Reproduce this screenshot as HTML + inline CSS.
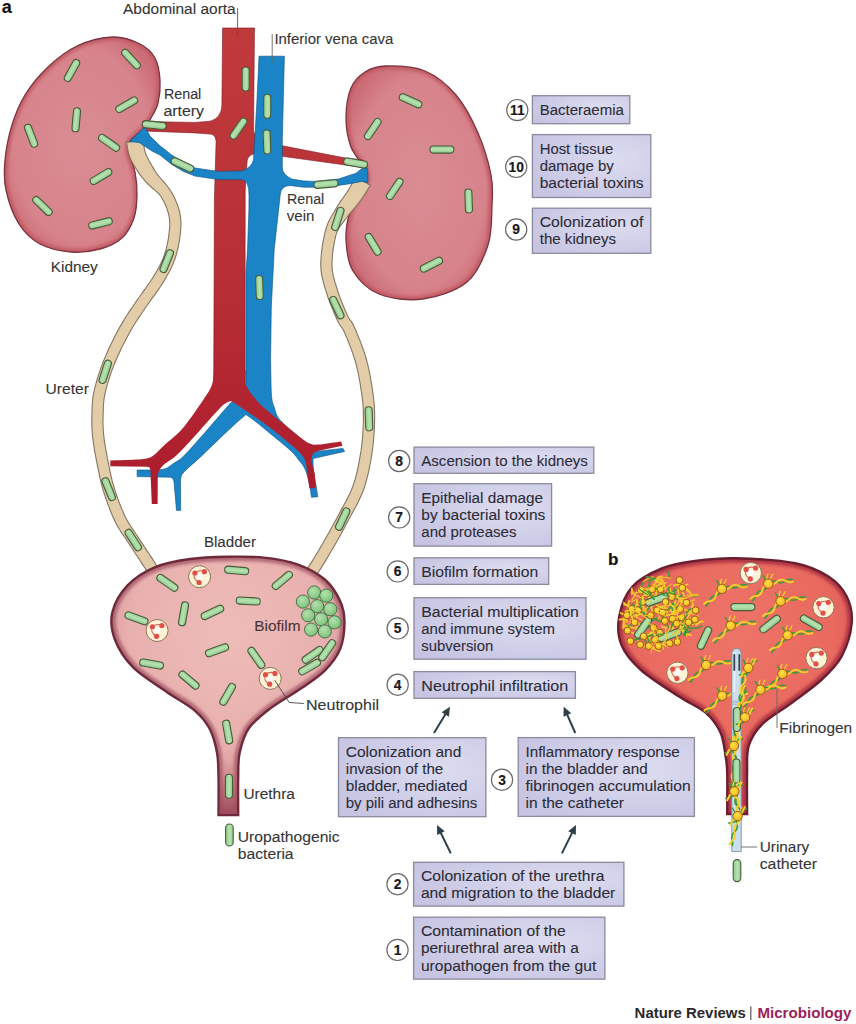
<!DOCTYPE html>
<html><head><meta charset="utf-8"><title>UTI pathogenesis</title>
<style>html,body{margin:0;padding:0;background:#ffffff;}body{width:856px;height:1024px;overflow:hidden;font-family:"Liberation Sans",sans-serif;}svg{display:block;}</style>
</head><body>
<svg width="856" height="1024" viewBox="0 0 856 1024" font-family="Liberation Sans, sans-serif"><defs>
<linearGradient id="bg" x1="0" y1="0" x2="0" y2="1">
 <stop offset="0" stop-color="#8fcf8f"/><stop offset="0.45" stop-color="#b8e2b2"/><stop offset="1" stop-color="#8cc98c"/>
</linearGradient>
<radialGradient id="kid" cx="0.5" cy="0.5" r="0.56">
 <stop offset="0" stop-color="#da8c93"/><stop offset="0.8" stop-color="#d7838b"/><stop offset="1" stop-color="#cc6e78"/>
</radialGradient>
<radialGradient id="bla" cx="0.5" cy="0.3" r="0.7">
 <stop offset="0" stop-color="#eebcb8"/><stop offset="0.6" stop-color="#e8b0ae"/><stop offset="1" stop-color="#cc868c"/>
</radialGradient>
<radialGradient id="blb" cx="0.5" cy="0.3" r="0.7">
 <stop offset="0" stop-color="#ee7468"/><stop offset="0.6" stop-color="#e9695f"/><stop offset="1" stop-color="#d2545a"/>
</radialGradient>
<radialGradient id="box" cx="0.7" cy="0.4" r="0.8">
 <stop offset="0" stop-color="#dcdcf0"/><stop offset="1" stop-color="#c6c4e2"/>
</radialGradient>
<linearGradient id="aor" x1="0" y1="0" x2="1" y2="0">
 <stop offset="0" stop-color="#c03a3c"/><stop offset="1" stop-color="#b0262e"/>
</linearGradient>
<linearGradient id="ure" x1="0" y1="0" x2="0" y2="1">
 <stop offset="0" stop-color="#b86874" stop-opacity="0"/><stop offset="1" stop-color="#9a4658" stop-opacity="0.9"/>
</linearGradient>
<radialGradient id="sph" cx="0.4" cy="0.35" r="0.7">
 <stop offset="0" stop-color="#b5e0ad"/><stop offset="1" stop-color="#78c078"/>
</radialGradient>
<radialGradient id="fib" cx="0.4" cy="0.35" r="0.7">
 <stop offset="0" stop-color="#ffe040"/><stop offset="1" stop-color="#f0b424"/>
</radialGradient>
<linearGradient id="red" gradientUnits="userSpaceOnUse" x1="0" y1="28" x2="0" y2="500">
 <stop offset="0" stop-color="#c03a3c"/><stop offset="0.5" stop-color="#b83036"/><stop offset="1" stop-color="#ac1c2c"/>
</linearGradient>
<filter id="blur1" x="-10%" y="-10%" width="120%" height="120%"><feGaussianBlur stdDeviation="1.6"/></filter>
</defs>
<clipPath id="c1"><path d="M 113.0 37.0 C 123.5 36.7 133.0 40.5 140.0 44.0 C 147.0 47.5 151.7 52.0 155.0 58.0 C 158.3 64.0 159.5 72.5 160.0 80.0 C 160.5 87.5 159.5 96.7 158.0 103.0 C 156.5 109.3 153.2 114.0 151.0 118.0 C 148.8 122.0 147.3 124.2 145.0 127.0 C 142.7 129.8 139.5 132.1 137.0 134.5 C 134.5 136.9 131.4 138.6 130.0 141.5 C 128.6 144.4 127.7 146.9 128.5 152.0 C 129.3 157.1 133.6 164.8 135.0 172.0 C 136.4 179.2 137.2 187.3 137.0 195.0 C 136.8 202.7 136.5 210.8 134.0 218.0 C 131.5 225.2 127.7 232.8 122.0 238.0 C 116.3 243.2 108.5 246.7 100.0 249.0 C 91.5 251.3 81.0 252.8 71.0 252.0 C 61.0 251.2 48.7 248.7 40.0 244.0 C 31.3 239.3 24.7 233.0 19.0 224.0 C 13.3 215.0 8.3 200.7 6.0 190.0 C 3.7 179.3 4.0 170.8 5.0 160.0 C 6.0 149.2 8.7 135.8 12.0 125.0 C 15.3 114.2 19.0 104.7 25.0 95.0 C 31.0 85.3 39.3 75.2 48.0 67.0 C 56.7 58.8 66.2 51.0 77.0 46.0 C 87.8 41.0 102.5 37.3 113.0 37.0 Z"/></clipPath><path d="M 113.0 37.0 C 123.5 36.7 133.0 40.5 140.0 44.0 C 147.0 47.5 151.7 52.0 155.0 58.0 C 158.3 64.0 159.5 72.5 160.0 80.0 C 160.5 87.5 159.5 96.7 158.0 103.0 C 156.5 109.3 153.2 114.0 151.0 118.0 C 148.8 122.0 147.3 124.2 145.0 127.0 C 142.7 129.8 139.5 132.1 137.0 134.5 C 134.5 136.9 131.4 138.6 130.0 141.5 C 128.6 144.4 127.7 146.9 128.5 152.0 C 129.3 157.1 133.6 164.8 135.0 172.0 C 136.4 179.2 137.2 187.3 137.0 195.0 C 136.8 202.7 136.5 210.8 134.0 218.0 C 131.5 225.2 127.7 232.8 122.0 238.0 C 116.3 243.2 108.5 246.7 100.0 249.0 C 91.5 251.3 81.0 252.8 71.0 252.0 C 61.0 251.2 48.7 248.7 40.0 244.0 C 31.3 239.3 24.7 233.0 19.0 224.0 C 13.3 215.0 8.3 200.7 6.0 190.0 C 3.7 179.3 4.0 170.8 5.0 160.0 C 6.0 149.2 8.7 135.8 12.0 125.0 C 15.3 114.2 19.0 104.7 25.0 95.0 C 31.0 85.3 39.3 75.2 48.0 67.0 C 56.7 58.8 66.2 51.0 77.0 46.0 C 87.8 41.0 102.5 37.3 113.0 37.0 Z" fill="url(#kid)"/><path d="M 113.0 37.0 C 123.5 36.7 133.0 40.5 140.0 44.0 C 147.0 47.5 151.7 52.0 155.0 58.0 C 158.3 64.0 159.5 72.5 160.0 80.0 C 160.5 87.5 159.5 96.7 158.0 103.0 C 156.5 109.3 153.2 114.0 151.0 118.0 C 148.8 122.0 147.3 124.2 145.0 127.0 C 142.7 129.8 139.5 132.1 137.0 134.5 C 134.5 136.9 131.4 138.6 130.0 141.5 C 128.6 144.4 127.7 146.9 128.5 152.0 C 129.3 157.1 133.6 164.8 135.0 172.0 C 136.4 179.2 137.2 187.3 137.0 195.0 C 136.8 202.7 136.5 210.8 134.0 218.0 C 131.5 225.2 127.7 232.8 122.0 238.0 C 116.3 243.2 108.5 246.7 100.0 249.0 C 91.5 251.3 81.0 252.8 71.0 252.0 C 61.0 251.2 48.7 248.7 40.0 244.0 C 31.3 239.3 24.7 233.0 19.0 224.0 C 13.3 215.0 8.3 200.7 6.0 190.0 C 3.7 179.3 4.0 170.8 5.0 160.0 C 6.0 149.2 8.7 135.8 12.0 125.0 C 15.3 114.2 19.0 104.7 25.0 95.0 C 31.0 85.3 39.3 75.2 48.0 67.0 C 56.7 58.8 66.2 51.0 77.0 46.0 C 87.8 41.0 102.5 37.3 113.0 37.0 Z" fill="none" stroke="#c05560" stroke-width="7.0" stroke-opacity="0.80" clip-path="url(#c1)" filter="url(#blur1)"/><path d="M 113.0 37.0 C 123.5 36.7 133.0 40.5 140.0 44.0 C 147.0 47.5 151.7 52.0 155.0 58.0 C 158.3 64.0 159.5 72.5 160.0 80.0 C 160.5 87.5 159.5 96.7 158.0 103.0 C 156.5 109.3 153.2 114.0 151.0 118.0 C 148.8 122.0 147.3 124.2 145.0 127.0 C 142.7 129.8 139.5 132.1 137.0 134.5 C 134.5 136.9 131.4 138.6 130.0 141.5 C 128.6 144.4 127.7 146.9 128.5 152.0 C 129.3 157.1 133.6 164.8 135.0 172.0 C 136.4 179.2 137.2 187.3 137.0 195.0 C 136.8 202.7 136.5 210.8 134.0 218.0 C 131.5 225.2 127.7 232.8 122.0 238.0 C 116.3 243.2 108.5 246.7 100.0 249.0 C 91.5 251.3 81.0 252.8 71.0 252.0 C 61.0 251.2 48.7 248.7 40.0 244.0 C 31.3 239.3 24.7 233.0 19.0 224.0 C 13.3 215.0 8.3 200.7 6.0 190.0 C 3.7 179.3 4.0 170.8 5.0 160.0 C 6.0 149.2 8.7 135.8 12.0 125.0 C 15.3 114.2 19.0 104.7 25.0 95.0 C 31.0 85.3 39.3 75.2 48.0 67.0 C 56.7 58.8 66.2 51.0 77.0 46.0 C 87.8 41.0 102.5 37.3 113.0 37.0 Z" fill="none" stroke="#7a3540" stroke-width="1.3" stroke-linejoin="miter"/>
<clipPath id="c2"><path d="M 386.0 66.0 C 396.0 65.8 413.3 66.2 425.0 71.0 C 436.7 75.8 447.2 84.7 456.0 95.0 C 464.8 105.3 472.2 119.7 478.0 133.0 C 483.8 146.3 488.7 163.0 491.0 175.0 C 493.3 187.0 492.5 193.3 492.0 205.0 C 491.5 216.7 492.2 232.2 488.0 245.0 C 483.8 257.8 477.8 273.0 467.0 282.0 C 456.2 291.0 437.7 297.0 423.0 299.0 C 408.3 301.0 390.7 298.7 379.0 294.0 C 367.3 289.3 358.5 280.0 353.0 271.0 C 347.5 262.0 346.5 249.8 346.0 240.0 C 345.5 230.2 347.3 220.2 350.0 212.0 C 352.7 203.8 359.2 196.7 362.0 191.0 C 364.8 185.3 366.7 182.0 367.0 178.0 C 367.3 174.0 366.7 172.2 364.0 167.0 C 361.3 161.8 354.0 155.2 351.0 147.0 C 348.0 138.8 346.0 127.8 346.0 118.0 C 346.0 108.2 347.8 95.7 351.0 88.0 C 354.2 80.3 359.2 75.7 365.0 72.0 C 370.8 68.3 376.0 66.2 386.0 66.0 Z"/></clipPath><path d="M 386.0 66.0 C 396.0 65.8 413.3 66.2 425.0 71.0 C 436.7 75.8 447.2 84.7 456.0 95.0 C 464.8 105.3 472.2 119.7 478.0 133.0 C 483.8 146.3 488.7 163.0 491.0 175.0 C 493.3 187.0 492.5 193.3 492.0 205.0 C 491.5 216.7 492.2 232.2 488.0 245.0 C 483.8 257.8 477.8 273.0 467.0 282.0 C 456.2 291.0 437.7 297.0 423.0 299.0 C 408.3 301.0 390.7 298.7 379.0 294.0 C 367.3 289.3 358.5 280.0 353.0 271.0 C 347.5 262.0 346.5 249.8 346.0 240.0 C 345.5 230.2 347.3 220.2 350.0 212.0 C 352.7 203.8 359.2 196.7 362.0 191.0 C 364.8 185.3 366.7 182.0 367.0 178.0 C 367.3 174.0 366.7 172.2 364.0 167.0 C 361.3 161.8 354.0 155.2 351.0 147.0 C 348.0 138.8 346.0 127.8 346.0 118.0 C 346.0 108.2 347.8 95.7 351.0 88.0 C 354.2 80.3 359.2 75.7 365.0 72.0 C 370.8 68.3 376.0 66.2 386.0 66.0 Z" fill="url(#kid)"/><path d="M 386.0 66.0 C 396.0 65.8 413.3 66.2 425.0 71.0 C 436.7 75.8 447.2 84.7 456.0 95.0 C 464.8 105.3 472.2 119.7 478.0 133.0 C 483.8 146.3 488.7 163.0 491.0 175.0 C 493.3 187.0 492.5 193.3 492.0 205.0 C 491.5 216.7 492.2 232.2 488.0 245.0 C 483.8 257.8 477.8 273.0 467.0 282.0 C 456.2 291.0 437.7 297.0 423.0 299.0 C 408.3 301.0 390.7 298.7 379.0 294.0 C 367.3 289.3 358.5 280.0 353.0 271.0 C 347.5 262.0 346.5 249.8 346.0 240.0 C 345.5 230.2 347.3 220.2 350.0 212.0 C 352.7 203.8 359.2 196.7 362.0 191.0 C 364.8 185.3 366.7 182.0 367.0 178.0 C 367.3 174.0 366.7 172.2 364.0 167.0 C 361.3 161.8 354.0 155.2 351.0 147.0 C 348.0 138.8 346.0 127.8 346.0 118.0 C 346.0 108.2 347.8 95.7 351.0 88.0 C 354.2 80.3 359.2 75.7 365.0 72.0 C 370.8 68.3 376.0 66.2 386.0 66.0 Z" fill="none" stroke="#c05560" stroke-width="7.0" stroke-opacity="0.80" clip-path="url(#c2)" filter="url(#blur1)"/><path d="M 386.0 66.0 C 396.0 65.8 413.3 66.2 425.0 71.0 C 436.7 75.8 447.2 84.7 456.0 95.0 C 464.8 105.3 472.2 119.7 478.0 133.0 C 483.8 146.3 488.7 163.0 491.0 175.0 C 493.3 187.0 492.5 193.3 492.0 205.0 C 491.5 216.7 492.2 232.2 488.0 245.0 C 483.8 257.8 477.8 273.0 467.0 282.0 C 456.2 291.0 437.7 297.0 423.0 299.0 C 408.3 301.0 390.7 298.7 379.0 294.0 C 367.3 289.3 358.5 280.0 353.0 271.0 C 347.5 262.0 346.5 249.8 346.0 240.0 C 345.5 230.2 347.3 220.2 350.0 212.0 C 352.7 203.8 359.2 196.7 362.0 191.0 C 364.8 185.3 366.7 182.0 367.0 178.0 C 367.3 174.0 366.7 172.2 364.0 167.0 C 361.3 161.8 354.0 155.2 351.0 147.0 C 348.0 138.8 346.0 127.8 346.0 118.0 C 346.0 108.2 347.8 95.7 351.0 88.0 C 354.2 80.3 359.2 75.7 365.0 72.0 C 370.8 68.3 376.0 66.2 386.0 66.0 Z" fill="none" stroke="#7a3540" stroke-width="1.3" stroke-linejoin="miter"/>
<path d="M 126.6 142.4 L 126.7 142.9 L 126.8 143.5 L 127.0 144.5 L 127.1 145.6 L 127.3 146.9 L 127.5 148.4 L 127.8 150.0 L 128.2 151.7 L 128.6 153.5 L 129.2 155.3 L 129.9 157.2 L 130.6 159.1 L 131.5 160.9 L 132.4 162.6 L 133.4 164.4 L 134.4 166.1 L 135.5 167.9 L 136.7 169.8 L 137.9 171.6 L 139.1 173.4 L 140.4 175.1 L 141.7 176.8 L 143.1 178.5 L 144.4 180.2 L 145.9 181.9 L 147.5 183.5 L 149.1 185.1 L 150.7 186.5 L 152.3 188.0 L 153.9 189.3 L 155.3 190.6 L 156.8 191.9 L 158.1 193.2 L 159.3 194.4 L 160.4 195.7 L 161.3 197.0 L 162.2 198.5 L 163.0 200.0 L 163.9 201.6 L 164.6 203.2 L 165.4 204.8 L 166.1 206.5 L 166.7 208.1 L 167.3 209.8 L 167.8 211.4 L 168.3 213.0 L 168.7 214.6 L 169.0 216.1 L 169.3 217.6 L 169.5 219.0 L 169.6 220.5 L 169.7 221.9 L 169.8 223.3 L 169.8 224.8 L 169.7 226.3 L 169.6 227.8 L 169.5 229.3 L 169.3 231.0 L 169.1 232.6 L 168.9 234.3 L 168.7 236.0 L 168.5 237.8 L 168.2 239.6 L 167.9 241.4 L 167.5 243.2 L 167.1 245.0 L 166.7 246.9 L 166.3 248.7 L 165.8 250.5 L 165.3 252.3 L 164.7 254.0 L 164.1 255.7 L 163.5 257.4 L 162.8 259.0 L 162.1 260.7 L 161.4 262.3 L 160.6 263.9 L 159.8 265.6 L 158.9 267.2 L 158.0 268.9 L 157.1 270.6 L 156.1 272.3 L 155.1 274.0 L 154.0 275.8 L 152.9 277.6 L 151.8 279.3 L 150.5 281.2 L 149.3 283.0 L 147.9 284.9 L 146.6 286.8 L 145.2 288.8 L 143.8 290.7 L 142.4 292.6 L 141.0 294.5 L 139.7 296.5 L 138.4 298.3 L 137.1 300.1 L 135.9 301.9 L 134.7 303.7 L 133.5 305.4 L 132.3 307.2 L 131.1 308.9 L 129.9 310.6 L 128.7 312.4 L 127.6 314.2 L 126.4 316.0 L 125.2 317.8 L 124.1 319.7 L 123.0 321.6 L 121.9 323.5 L 120.8 325.4 L 119.7 327.3 L 118.6 329.2 L 117.6 331.1 L 116.6 333.1 L 115.5 335.0 L 114.5 337.0 L 113.5 339.0 L 112.5 341.0 L 111.6 343.0 L 110.6 345.0 L 109.6 347.0 L 108.7 349.1 L 107.7 351.2 L 106.8 353.3 L 105.9 355.4 L 105.0 357.5 L 104.1 359.6 L 103.2 361.7 L 102.4 363.9 L 101.6 366.0 L 100.8 368.1 L 100.1 370.2 L 99.4 372.4 L 98.6 374.5 L 98.0 376.7 L 97.3 378.9 L 96.7 381.0 L 96.1 383.2 L 95.5 385.3 L 94.9 387.5 L 94.5 389.6 L 94.0 391.6 L 93.6 393.7 L 93.2 395.7 L 92.9 397.6 L 92.7 399.6 L 92.5 401.5 L 92.4 403.3 L 92.2 405.1 L 92.1 406.9 L 92.1 408.7 L 92.0 410.4 L 92.0 412.1 L 91.9 413.9 L 91.9 415.6 L 91.9 417.3 L 91.8 419.0 L 91.8 420.7 L 91.8 422.4 L 91.8 424.1 L 91.9 425.9 L 91.9 427.6 L 92.0 429.4 L 92.1 431.2 L 92.3 433.1 L 92.4 435.0 L 92.6 437.0 L 92.9 439.1 L 93.2 441.2 L 93.5 443.4 L 93.8 445.6 L 94.2 447.9 L 94.5 450.1 L 94.9 452.4 L 95.4 454.7 L 95.8 457.0 L 96.2 459.3 L 96.7 461.6 L 97.1 463.8 L 97.5 466.0 L 98.0 468.1 L 98.4 470.3 L 98.8 472.5 L 99.3 474.7 L 99.7 476.9 L 100.2 479.1 L 100.8 481.4 L 101.3 483.6 L 102.0 486.0 L 102.6 488.3 L 103.3 490.8 L 104.1 493.2 L 105.0 495.8 L 105.8 498.4 L 106.8 501.0 L 107.7 503.7 L 108.7 506.4 L 109.7 509.0 L 110.8 511.7 L 111.8 514.2 L 112.9 516.7 L 114.0 519.1 L 115.1 521.4 L 116.2 523.7 L 117.3 525.8 L 118.5 527.8 L 119.7 529.8 L 120.9 531.6 L 122.0 533.4 L 123.2 535.1 L 124.4 536.8 L 125.5 538.4 L 126.5 539.9 L 127.6 541.5 L 128.6 543.0 L 129.6 544.6 L 130.6 546.2 L 131.6 547.7 L 132.6 549.3 L 133.6 550.8 L 134.6 552.2 L 135.5 553.7 L 136.4 555.1 L 137.4 556.5 L 138.3 557.9 L 139.2 559.3 L 140.1 560.7 L 141.1 562.1 L 142.0 563.6 L 143.0 565.1 L 144.0 566.6 L 145.0 568.0 L 146.0 569.5 L 146.9 570.9 L 147.7 572.2 L 148.5 573.4 L 149.2 574.4 L 149.8 575.4 L 150.3 576.1 L 159.7 569.9 L 159.2 569.2 L 158.6 568.3 L 157.9 567.2 L 157.1 566.0 L 156.2 564.7 L 155.3 563.3 L 154.3 561.9 L 153.3 560.4 L 152.4 558.9 L 151.4 557.4 L 150.4 555.9 L 149.5 554.5 L 148.6 553.1 L 147.7 551.8 L 146.7 550.4 L 145.8 548.9 L 144.9 547.5 L 143.9 546.1 L 143.0 544.6 L 142.0 543.1 L 141.0 541.6 L 140.0 540.1 L 139.0 538.6 L 138.0 537.0 L 136.9 535.3 L 135.8 533.7 L 134.7 532.0 L 133.6 530.4 L 132.5 528.8 L 131.3 527.2 L 130.3 525.5 L 129.2 523.8 L 128.1 522.1 L 127.1 520.3 L 126.1 518.5 L 125.1 516.6 L 124.2 514.5 L 123.2 512.2 L 122.2 509.9 L 121.2 507.5 L 120.2 505.0 L 119.2 502.4 L 118.2 499.8 L 117.3 497.3 L 116.4 494.7 L 115.6 492.2 L 114.8 489.8 L 114.1 487.4 L 113.4 485.2 L 112.8 483.0 L 112.2 480.9 L 111.7 478.7 L 111.2 476.6 L 110.7 474.5 L 110.2 472.4 L 109.8 470.3 L 109.4 468.1 L 109.0 466.0 L 108.5 463.8 L 108.1 461.6 L 107.7 459.4 L 107.2 457.2 L 106.8 454.9 L 106.4 452.7 L 106.0 450.5 L 105.6 448.2 L 105.2 446.0 L 104.9 443.9 L 104.5 441.8 L 104.2 439.7 L 104.0 437.7 L 103.8 435.8 L 103.6 434.0 L 103.4 432.2 L 103.3 430.5 L 103.2 428.8 L 103.1 427.2 L 103.1 425.6 L 103.0 424.0 L 103.0 422.4 L 103.0 420.8 L 103.0 419.2 L 103.1 417.5 L 103.1 415.8 L 103.1 414.1 L 103.2 412.4 L 103.2 410.7 L 103.3 409.1 L 103.3 407.4 L 103.4 405.8 L 103.5 404.2 L 103.7 402.5 L 103.8 400.9 L 104.0 399.2 L 104.3 397.5 L 104.6 395.7 L 105.0 393.9 L 105.4 392.0 L 105.8 390.1 L 106.3 388.1 L 106.9 386.1 L 107.4 384.1 L 108.0 382.1 L 108.7 380.0 L 109.3 378.0 L 110.0 375.9 L 110.7 373.9 L 111.4 371.9 L 112.1 369.9 L 112.9 367.9 L 113.6 365.9 L 114.5 363.8 L 115.3 361.8 L 116.2 359.8 L 117.0 357.8 L 117.9 355.8 L 118.9 353.8 L 119.8 351.8 L 120.7 349.8 L 121.6 347.8 L 122.6 345.9 L 123.5 344.0 L 124.5 342.1 L 125.5 340.2 L 126.5 338.3 L 127.5 336.4 L 128.5 334.6 L 129.5 332.7 L 130.5 330.9 L 131.6 329.1 L 132.6 327.3 L 133.7 325.5 L 134.8 323.7 L 135.9 322.0 L 137.0 320.3 L 138.1 318.6 L 139.2 316.9 L 140.4 315.2 L 141.5 313.5 L 142.7 311.8 L 143.9 310.0 L 145.1 308.3 L 146.4 306.5 L 147.6 304.7 L 148.9 302.9 L 150.2 301.0 L 151.5 299.1 L 152.9 297.2 L 154.3 295.3 L 155.7 293.4 L 157.1 291.4 L 158.5 289.4 L 159.8 287.5 L 161.1 285.5 L 162.4 283.5 L 163.6 281.6 L 164.7 279.7 L 165.8 277.9 L 166.8 276.1 L 167.8 274.3 L 168.8 272.5 L 169.8 270.7 L 170.7 268.9 L 171.5 267.1 L 172.4 265.2 L 173.2 263.3 L 173.9 261.4 L 174.7 259.5 L 175.4 257.5 L 176.0 255.5 L 176.6 253.5 L 177.1 251.5 L 177.6 249.5 L 178.1 247.4 L 178.5 245.4 L 178.9 243.4 L 179.2 241.4 L 179.5 239.5 L 179.8 237.5 L 180.1 235.7 L 180.3 233.9 L 180.5 232.1 L 180.6 230.3 L 180.8 228.6 L 180.9 226.8 L 180.9 225.0 L 181.0 223.2 L 180.9 221.4 L 180.8 219.6 L 180.6 217.7 L 180.3 215.8 L 180.0 213.9 L 179.6 212.0 L 179.1 210.0 L 178.5 208.1 L 177.9 206.2 L 177.2 204.2 L 176.4 202.3 L 175.6 200.4 L 174.8 198.4 L 173.9 196.5 L 172.9 194.7 L 171.8 192.8 L 170.7 191.0 L 169.5 189.1 L 168.1 187.3 L 166.8 185.5 L 165.4 183.8 L 164.0 182.2 L 162.6 180.6 L 161.2 179.0 L 159.9 177.5 L 158.7 176.1 L 157.5 174.6 L 156.5 173.2 L 155.6 171.8 L 154.6 170.3 L 153.6 168.6 L 152.6 166.9 L 151.6 165.2 L 150.7 163.5 L 149.7 161.9 L 148.8 160.2 L 148.0 158.6 L 147.2 157.0 L 146.5 155.5 L 145.9 154.1 L 145.4 152.9 L 145.0 151.8 L 144.7 150.7 L 144.5 149.6 L 144.3 148.5 L 144.1 147.3 L 144.0 146.1 L 143.9 144.9 L 143.8 143.8 L 143.7 142.7 L 143.6 141.6 L 143.5 140.5 L 143.4 139.6 Z" fill="#e2cda8" stroke="#857462" stroke-width="1.1" stroke-linejoin="round"/>
<path d="M 355.7 176.7 L 355.3 177.4 L 354.7 178.4 L 354.2 179.5 L 353.5 180.7 L 352.9 181.9 L 352.1 183.3 L 351.4 184.7 L 350.6 186.1 L 349.8 187.6 L 349.0 189.0 L 348.2 190.3 L 347.4 191.6 L 346.7 192.8 L 345.8 194.0 L 344.9 195.3 L 344.0 196.6 L 343.0 198.0 L 342.0 199.4 L 340.9 200.9 L 339.9 202.4 L 338.8 204.0 L 337.8 205.6 L 336.8 207.2 L 335.9 208.9 L 335.0 210.3 L 334.2 211.8 L 333.3 213.2 L 332.4 214.7 L 331.5 216.3 L 330.5 217.9 L 329.6 219.7 L 328.7 221.6 L 327.8 223.6 L 327.0 225.7 L 326.3 228.0 L 325.6 230.4 L 324.9 232.9 L 324.3 235.6 L 323.7 238.4 L 323.1 241.3 L 322.6 244.4 L 322.1 247.5 L 321.7 250.6 L 321.4 253.7 L 321.1 256.8 L 320.9 259.8 L 320.8 262.7 L 320.8 265.5 L 320.9 268.2 L 321.1 270.8 L 321.4 273.3 L 321.9 275.7 L 322.3 278.1 L 322.9 280.4 L 323.5 282.6 L 324.1 284.8 L 324.7 287.0 L 325.4 289.1 L 326.1 291.3 L 326.8 293.5 L 327.5 295.8 L 328.3 298.2 L 329.2 300.7 L 330.2 303.2 L 331.1 305.6 L 332.1 308.0 L 333.1 310.4 L 334.0 312.7 L 335.0 314.9 L 335.9 316.9 L 336.7 318.8 L 337.5 320.6 L 338.3 322.2 L 339.0 323.5 L 339.7 324.7 L 340.4 325.7 L 341.0 326.6 L 341.5 327.2 L 342.0 327.8 L 342.3 328.3 L 342.7 328.9 L 343.2 329.7 L 343.7 330.8 L 344.4 332.3 L 345.2 334.1 L 346.0 336.1 L 347.0 338.4 L 348.0 340.8 L 349.0 343.3 L 350.0 345.9 L 351.0 348.6 L 352.0 351.4 L 353.0 354.1 L 353.9 356.8 L 354.8 359.4 L 355.5 362.0 L 356.2 364.6 L 356.9 367.3 L 357.5 370.0 L 358.1 372.7 L 358.7 375.5 L 359.2 378.3 L 359.7 381.1 L 360.2 383.9 L 360.6 386.6 L 361.0 389.3 L 361.4 391.8 L 361.8 394.3 L 362.1 396.6 L 362.3 398.8 L 362.6 400.8 L 362.8 402.8 L 363.0 404.7 L 363.1 406.5 L 363.2 408.4 L 363.3 410.3 L 363.4 412.2 L 363.4 414.3 L 363.4 416.4 L 363.4 418.7 L 363.4 421.2 L 363.3 423.7 L 363.2 426.2 L 363.1 428.9 L 362.9 431.5 L 362.8 434.3 L 362.6 437.0 L 362.3 439.8 L 362.0 442.6 L 361.7 445.4 L 361.4 448.2 L 361.0 451.0 L 360.5 453.8 L 360.0 456.7 L 359.5 459.6 L 359.0 462.6 L 358.4 465.5 L 357.8 468.5 L 357.1 471.4 L 356.4 474.4 L 355.7 477.2 L 354.9 480.1 L 354.0 482.8 L 353.1 485.5 L 352.1 488.1 L 351.1 490.7 L 349.9 493.4 L 348.6 496.0 L 347.3 498.6 L 346.0 501.2 L 344.6 503.8 L 343.2 506.4 L 341.7 508.9 L 340.3 511.5 L 339.0 514.0 L 337.6 516.5 L 336.4 518.9 L 335.1 521.2 L 333.9 523.5 L 332.7 525.8 L 331.4 528.0 L 330.2 530.2 L 329.0 532.4 L 327.8 534.5 L 326.6 536.7 L 325.4 538.8 L 324.2 540.8 L 323.1 542.9 L 321.9 545.0 L 320.6 547.1 L 319.4 549.2 L 318.2 551.3 L 316.9 553.3 L 315.7 555.3 L 314.6 557.3 L 313.4 559.2 L 312.3 560.9 L 311.3 562.6 L 310.3 564.1 L 309.4 565.4 L 308.6 566.6 L 307.8 567.7 L 307.0 568.6 L 306.3 569.5 L 305.7 570.2 L 305.0 570.9 L 304.4 571.6 L 303.9 572.1 L 303.3 572.7 L 302.8 573.2 L 302.3 573.8 L 301.8 574.3 L 310.2 581.7 L 310.5 581.4 L 310.8 581.0 L 311.3 580.6 L 311.9 580.0 L 312.5 579.3 L 313.2 578.5 L 314.0 577.7 L 314.9 576.7 L 315.8 575.6 L 316.7 574.5 L 317.6 573.2 L 318.6 571.8 L 319.6 570.3 L 320.7 568.6 L 321.8 566.9 L 322.9 565.0 L 324.1 563.1 L 325.3 561.1 L 326.6 559.1 L 327.8 557.0 L 329.1 554.8 L 330.3 552.7 L 331.5 550.6 L 332.7 548.5 L 333.9 546.4 L 335.2 544.3 L 336.4 542.2 L 337.6 540.0 L 338.8 537.9 L 340.0 535.7 L 341.3 533.4 L 342.5 531.2 L 343.8 528.9 L 345.0 526.5 L 346.3 524.1 L 347.6 521.7 L 348.8 519.3 L 350.2 516.8 L 351.6 514.3 L 353.0 511.8 L 354.4 509.1 L 355.9 506.4 L 357.3 503.7 L 358.7 500.9 L 360.0 498.1 L 361.3 495.2 L 362.6 492.3 L 363.7 489.3 L 364.7 486.3 L 365.6 483.3 L 366.5 480.2 L 367.3 477.1 L 368.1 474.0 L 368.8 470.9 L 369.4 467.8 L 370.0 464.7 L 370.6 461.6 L 371.1 458.6 L 371.6 455.6 L 372.0 452.6 L 372.5 449.7 L 372.8 446.7 L 373.2 443.8 L 373.5 440.8 L 373.7 437.9 L 373.9 435.0 L 374.1 432.2 L 374.3 429.4 L 374.4 426.7 L 374.5 424.0 L 374.6 421.4 L 374.6 418.9 L 374.6 416.5 L 374.6 414.2 L 374.6 412.0 L 374.5 409.9 L 374.4 407.8 L 374.3 405.8 L 374.1 403.7 L 373.9 401.7 L 373.7 399.6 L 373.5 397.4 L 373.2 395.1 L 372.8 392.7 L 372.5 390.2 L 372.1 387.6 L 371.7 384.9 L 371.2 382.1 L 370.7 379.2 L 370.2 376.3 L 369.7 373.4 L 369.1 370.5 L 368.4 367.5 L 367.8 364.6 L 367.0 361.8 L 366.3 359.0 L 365.5 356.2 L 364.6 353.3 L 363.6 350.4 L 362.6 347.6 L 361.5 344.7 L 360.5 341.9 L 359.4 339.2 L 358.3 336.6 L 357.3 334.1 L 356.4 331.8 L 355.5 329.7 L 354.6 327.7 L 353.8 326.0 L 353.1 324.5 L 352.4 323.2 L 351.7 322.1 L 351.0 321.2 L 350.4 320.4 L 350.0 319.8 L 349.6 319.3 L 349.2 318.7 L 348.8 318.0 L 348.3 317.1 L 347.7 315.8 L 346.9 314.2 L 346.1 312.4 L 345.2 310.4 L 344.3 308.3 L 343.4 306.1 L 342.5 303.8 L 341.5 301.5 L 340.6 299.1 L 339.7 296.8 L 338.9 294.5 L 338.1 292.3 L 337.4 290.1 L 336.8 288.0 L 336.1 285.8 L 335.5 283.7 L 334.8 281.7 L 334.3 279.7 L 333.7 277.7 L 333.3 275.7 L 332.9 273.7 L 332.5 271.7 L 332.3 269.6 L 332.1 267.5 L 332.0 265.3 L 332.0 262.9 L 332.1 260.4 L 332.3 257.6 L 332.5 254.8 L 332.8 251.9 L 333.2 249.0 L 333.7 246.2 L 334.1 243.4 L 334.7 240.6 L 335.2 238.1 L 335.8 235.7 L 336.4 233.6 L 337.1 231.8 L 337.8 230.1 L 338.6 228.7 L 339.4 227.3 L 340.3 225.9 L 341.2 224.7 L 342.2 223.4 L 343.2 222.1 L 344.2 220.8 L 345.3 219.4 L 346.4 218.0 L 347.5 216.5 L 348.6 215.2 L 349.6 213.9 L 350.6 212.6 L 351.7 211.4 L 352.8 210.1 L 353.9 208.7 L 355.1 207.4 L 356.2 206.0 L 357.3 204.7 L 358.4 203.3 L 359.5 201.9 L 360.6 200.4 L 361.6 199.0 L 362.6 197.5 L 363.6 196.0 L 364.6 194.5 L 365.5 193.0 L 366.4 191.6 L 367.2 190.3 L 368.0 189.0 L 368.7 187.8 L 369.4 186.8 L 369.9 186.0 L 370.3 185.3 Z" fill="#e2cda8" stroke="#857462" stroke-width="1.1" stroke-linejoin="round"/>
<path d="M 222.6 28 L 254.5 28 L 253.5 131 Q 256 140 262 144 L 282.3 145.8 L 345.4 158 L 361.8 159.8 L 364.5 161 L 364.5 166.5 L 361.8 167.4 L 345.4 165 L 282.3 156.3 L 262 154 Q 249 152 247.2 160 L 245.2 190 L 245 380 L 213.7 380 L 214.4 200 L 216.1 141.1 Q 215.5 134.5 210.2 134.1 L 195 132.9 L 143 131 L 143 121.5 L 195 122.4 L 210.2 121.2 Q 221.5 118 221.9 105 Z" fill="url(#red)" stroke="#7a1a22" stroke-width="0.6"/>
<path d="M 259 56.2 L 284.4 56.2 L 282.3 140 L 282.3 168 Q 282.5 174.4 291.7 179 Q 303 181.6 315 181.4 L 338.4 179 L 356 173.2 L 361.8 168.6 L 367.6 168 L 368 182.6 L 361.8 181.4 L 350.1 183.7 L 326.7 187.2 L 303.4 187.2 L 290 185.5 Q 280.5 186 280.2 195 L 278.6 210 L 274.3 248.5 L 271.3 307 L 270.6 360 C 270.8 365.8 270.9 387.0 271.5 395.0 C 272.1 403.0 273.1 403.8 274.5 408.0 C 275.9 412.2 275.8 415.0 280.0 420.0 C 284.2 425.0 295.2 433.5 300.0 438.0 C 304.8 442.5 307.2 444.7 309.0 447.0 C 310.8 449.3 310.7 451.2 311.0 452.0 L 343 448.4 L 344.6 451.5 L 313 458.5 C 313.1 460.4 313.0 465.6 313.5 470.0 C 314.0 474.4 315.3 480.6 316.0 485.0 C 316.7 489.4 317.5 494.8 317.8 496.7 L 311.5 497.3 C 311.1 495.1 310.4 488.8 309.4 484.1 C 308.3 479.5 307.1 473.6 305.2 469.4 C 303.3 465.2 300.5 462.2 298.0 459.0 C 295.5 455.8 294.8 454.4 290.0 450.0 C 285.2 445.6 274.5 437.1 269.0 432.5 C 263.5 427.9 260.3 425.2 256.8 422.5 C 253.3 419.8 249.8 417.3 248.0 416.0 C 246.2 414.7 246.2 414.9 245.8 414.7 C 244.7 415.7 242.8 417.1 239.0 420.5 C 235.2 423.9 229.6 429.1 223.3 435.0 C 217.1 440.9 207.7 450.2 201.5 456.0 C 195.3 461.8 189.3 466.8 186.0 470.0 C 182.7 473.2 182.4 473.7 181.5 475.5 C 180.6 477.3 180.7 480.1 180.5 481.0 L 180.7 510.4 L 176.5 510.4 L 174 482 Q 173.5 477.5 170 477.2 L 137.1 476.6 L 137.1 470 L 158 470 C 159.3 469.8 163.4 469.6 166.0 468.5 C 168.6 467.4 170.5 465.6 173.5 463.5 C 176.5 461.4 178.9 460.8 183.8 456.0 C 188.7 451.2 195.5 443.2 202.8 435.0 C 210.1 426.8 222.7 412.0 227.5 406.5 C 232.3 401.0 231.1 402.8 231.8 402.0 L 245.9 390 L 246 272 L 247.5 250 L 248.9 210 L 249 195 Q 249 180.5 241.8 179.6 L 218.4 179.6 L 195 176.1 L 183.4 171.4 L 171.7 164.4 L 160 155.1 L 151.8 150.9 L 139.5 142.7 L 129.7 141.5 L 144 127.6 L 146 128.8 L 150.2 136.2 L 160 145.8 L 171.7 155.1 L 183.4 162.1 L 195 168 L 218.4 171.4 L 241.8 170.9 Q 251 168.5 253.5 160 L 254.5 143 L 257 100 Z" fill="#1a84c6" stroke="#0d4f80" stroke-width="0.6"/>
<path d="M 213.7 370 L 245.7 370.0 L 245.7 384.3 C 246.4 385.6 247.4 388.6 250.0 392.0 C 252.6 395.4 255.6 399.9 261.0 405.0 C 266.4 410.1 275.7 417.4 282.3 422.8 C 288.9 428.2 295.9 434.1 300.5 437.5 C 305.1 440.9 306.5 442.3 309.6 443.5 C 312.7 444.7 313.7 444.9 318.9 444.6 C 324.1 444.3 337.3 442.0 341.0 441.5 L 342.5 445.7 C 338.4 446.6 323.0 449.4 318.0 451.0 C 313.0 452.6 313.6 453.2 312.5 455.0 C 311.4 456.8 311.7 460.8 311.5 462.0 L 314.7 473.6 L 315.7 488.3 L 309.4 488.3 L 307.3 473.6 C 306.8 466.5 305.7 461.5 304.5 459.0 C 303.3 456.5 302.2 455.3 300.0 453.0 C 297.8 450.7 295.9 449.0 291.4 445.1 C 286.9 441.2 279.7 435.0 273.1 429.9 C 266.5 424.8 258.7 419.4 251.9 414.7 C 245.1 410.0 235.6 403.9 232.3 401.7 L 230.6 401.0 C 229.1 402.3 227.3 400.9 221.5 406.5 C 215.7 412.1 203.3 426.8 195.8 435.0 C 188.3 443.2 181.6 450.6 176.3 455.5 C 171.0 460.4 166.9 461.9 164.0 464.5 C 161.1 467.1 160.0 468.9 159.0 471.0 C 158.0 473.1 158.0 476.0 157.8 477.0 L 157.6 504.1 L 151.8 504.1 L 150.4 470.0 C 150.2 469.6 150.1 468.0 149.5 467.5 C 148.9 467.0 147.4 466.9 147.0 466.8 L 110.3 466.3 L 110.3 460.5 C 142.0 459.8 147.8 459.1 152.0 456.5 C 156.2 453.9 159.8 449.2 165.0 444.5 C 170.2 439.8 176.6 435.5 183.0 428.0 C 189.4 420.5 198.8 406.5 203.5 399.5 C 208.2 392.5 209.8 390.1 211.5 386.0 C 213.2 381.9 213.3 376.8 213.7 375.0 Z" fill="url(#red)"/>
<clipPath id="c3"><path d="M 238.2 815.0 C 238.2 808.7 237.9 787.4 238.2 777.0 C 238.4 766.6 237.9 760.7 239.7 752.6 C 241.5 744.5 243.7 735.6 248.8 728.3 C 253.9 721.0 261.5 715.2 270.1 708.6 C 278.7 702.0 291.4 695.1 300.5 688.8 C 309.6 682.5 318.2 677.2 324.8 670.6 C 331.4 664.0 336.7 657.5 340.0 649.4 C 343.3 641.3 344.5 630.1 344.5 622.0 C 344.5 613.9 343.3 607.9 340.0 600.8 C 336.7 593.7 331.9 585.6 324.8 579.5 C 317.7 573.4 307.5 567.9 297.4 564.3 C 287.3 560.6 275.6 558.9 264.0 557.6 C 252.4 556.3 239.9 556.5 227.6 556.7 C 215.3 556.9 202.2 557.2 190.0 559.0 C 177.8 560.8 165.1 562.9 154.7 567.3 C 144.2 571.7 134.4 578.0 127.3 585.6 C 120.2 593.2 114.2 603.8 112.2 612.9 C 110.2 622.0 111.7 631.1 115.2 640.2 C 118.7 649.3 124.8 659.0 133.4 667.6 C 142.0 676.2 156.7 684.8 166.8 691.9 C 176.9 699.0 187.1 704.0 194.2 710.1 C 201.3 716.2 205.6 721.2 209.4 728.3 C 213.2 735.4 215.5 744.5 217.0 752.6 C 218.5 760.7 218.2 766.6 218.5 777.0 C 218.8 787.4 218.5 808.7 218.5 815.0  Z"/></clipPath><path d="M 238.2 815.0 C 238.2 808.7 237.9 787.4 238.2 777.0 C 238.4 766.6 237.9 760.7 239.7 752.6 C 241.5 744.5 243.7 735.6 248.8 728.3 C 253.9 721.0 261.5 715.2 270.1 708.6 C 278.7 702.0 291.4 695.1 300.5 688.8 C 309.6 682.5 318.2 677.2 324.8 670.6 C 331.4 664.0 336.7 657.5 340.0 649.4 C 343.3 641.3 344.5 630.1 344.5 622.0 C 344.5 613.9 343.3 607.9 340.0 600.8 C 336.7 593.7 331.9 585.6 324.8 579.5 C 317.7 573.4 307.5 567.9 297.4 564.3 C 287.3 560.6 275.6 558.9 264.0 557.6 C 252.4 556.3 239.9 556.5 227.6 556.7 C 215.3 556.9 202.2 557.2 190.0 559.0 C 177.8 560.8 165.1 562.9 154.7 567.3 C 144.2 571.7 134.4 578.0 127.3 585.6 C 120.2 593.2 114.2 603.8 112.2 612.9 C 110.2 622.0 111.7 631.1 115.2 640.2 C 118.7 649.3 124.8 659.0 133.4 667.6 C 142.0 676.2 156.7 684.8 166.8 691.9 C 176.9 699.0 187.1 704.0 194.2 710.1 C 201.3 716.2 205.6 721.2 209.4 728.3 C 213.2 735.4 215.5 744.5 217.0 752.6 C 218.5 760.7 218.2 766.6 218.5 777.0 C 218.8 787.4 218.5 808.7 218.5 815.0  Z" fill="url(#bla)"/><path d="M 238.2 815.0 C 238.2 808.7 237.9 787.4 238.2 777.0 C 238.4 766.6 237.9 760.7 239.7 752.6 C 241.5 744.5 243.7 735.6 248.8 728.3 C 253.9 721.0 261.5 715.2 270.1 708.6 C 278.7 702.0 291.4 695.1 300.5 688.8 C 309.6 682.5 318.2 677.2 324.8 670.6 C 331.4 664.0 336.7 657.5 340.0 649.4 C 343.3 641.3 344.5 630.1 344.5 622.0 C 344.5 613.9 343.3 607.9 340.0 600.8 C 336.7 593.7 331.9 585.6 324.8 579.5 C 317.7 573.4 307.5 567.9 297.4 564.3 C 287.3 560.6 275.6 558.9 264.0 557.6 C 252.4 556.3 239.9 556.5 227.6 556.7 C 215.3 556.9 202.2 557.2 190.0 559.0 C 177.8 560.8 165.1 562.9 154.7 567.3 C 144.2 571.7 134.4 578.0 127.3 585.6 C 120.2 593.2 114.2 603.8 112.2 612.9 C 110.2 622.0 111.7 631.1 115.2 640.2 C 118.7 649.3 124.8 659.0 133.4 667.6 C 142.0 676.2 156.7 684.8 166.8 691.9 C 176.9 699.0 187.1 704.0 194.2 710.1 C 201.3 716.2 205.6 721.2 209.4 728.3 C 213.2 735.4 215.5 744.5 217.0 752.6 C 218.5 760.7 218.2 766.6 218.5 777.0 C 218.8 787.4 218.5 808.7 218.5 815.0  Z" fill="none" stroke="#a85c6a" stroke-width="9.0" stroke-opacity="0.85" clip-path="url(#c3)" filter="url(#blur1)"/><path d="M 238.2 815.0 C 238.2 808.7 237.9 787.4 238.2 777.0 C 238.4 766.6 237.9 760.7 239.7 752.6 C 241.5 744.5 243.7 735.6 248.8 728.3 C 253.9 721.0 261.5 715.2 270.1 708.6 C 278.7 702.0 291.4 695.1 300.5 688.8 C 309.6 682.5 318.2 677.2 324.8 670.6 C 331.4 664.0 336.7 657.5 340.0 649.4 C 343.3 641.3 344.5 630.1 344.5 622.0 C 344.5 613.9 343.3 607.9 340.0 600.8 C 336.7 593.7 331.9 585.6 324.8 579.5 C 317.7 573.4 307.5 567.9 297.4 564.3 C 287.3 560.6 275.6 558.9 264.0 557.6 C 252.4 556.3 239.9 556.5 227.6 556.7 C 215.3 556.9 202.2 557.2 190.0 559.0 C 177.8 560.8 165.1 562.9 154.7 567.3 C 144.2 571.7 134.4 578.0 127.3 585.6 C 120.2 593.2 114.2 603.8 112.2 612.9 C 110.2 622.0 111.7 631.1 115.2 640.2 C 118.7 649.3 124.8 659.0 133.4 667.6 C 142.0 676.2 156.7 684.8 166.8 691.9 C 176.9 699.0 187.1 704.0 194.2 710.1 C 201.3 716.2 205.6 721.2 209.4 728.3 C 213.2 735.4 215.5 744.5 217.0 752.6 C 218.5 760.7 218.2 766.6 218.5 777.0 C 218.8 787.4 218.5 808.7 218.5 815.0  Z" fill="none" stroke="#6e2a3a" stroke-width="2.4" stroke-linejoin="miter"/>
<rect x="219.8" y="760" width="17" height="53.7" fill="url(#ure)"/>
<clipPath id="c4"><path d="M 747.1 814.0 C 747.1 807.1 746.8 783.8 747.1 772.4 C 747.4 761.0 746.2 753.9 748.7 745.9 C 751.2 737.9 754.8 731.5 762.0 724.3 C 769.2 717.1 781.9 710.2 791.9 702.7 C 801.9 695.2 813.5 687.2 821.8 679.5 C 830.1 671.8 836.7 665.6 841.7 656.2 C 846.7 646.8 850.9 633.0 851.7 623.0 C 852.5 613.0 850.6 604.2 846.7 596.5 C 842.8 588.8 837.0 582.0 828.4 576.5 C 819.8 571.0 810.7 566.2 795.2 563.2 C 779.7 560.2 752.2 558.7 735.5 558.3 C 718.8 557.9 707.2 559.4 695.0 561.0 C 682.8 562.6 672.8 564.0 662.4 568.2 C 652.0 572.5 639.7 578.5 632.5 586.5 C 625.3 594.5 621.0 606.6 619.2 616.4 C 617.4 626.1 617.9 636.1 621.5 645.0 C 625.1 653.9 631.4 661.4 641.0 670.0 C 650.6 678.6 668.2 689.4 679.0 696.5 C 689.8 703.6 698.7 706.7 705.6 712.7 C 712.5 718.7 717.2 725.4 720.5 732.6 C 723.8 739.8 724.4 749.2 725.5 755.8 C 726.6 762.4 726.9 762.7 727.2 772.4 C 727.5 782.1 727.2 807.1 727.2 814.0  Z"/></clipPath><path d="M 747.1 814.0 C 747.1 807.1 746.8 783.8 747.1 772.4 C 747.4 761.0 746.2 753.9 748.7 745.9 C 751.2 737.9 754.8 731.5 762.0 724.3 C 769.2 717.1 781.9 710.2 791.9 702.7 C 801.9 695.2 813.5 687.2 821.8 679.5 C 830.1 671.8 836.7 665.6 841.7 656.2 C 846.7 646.8 850.9 633.0 851.7 623.0 C 852.5 613.0 850.6 604.2 846.7 596.5 C 842.8 588.8 837.0 582.0 828.4 576.5 C 819.8 571.0 810.7 566.2 795.2 563.2 C 779.7 560.2 752.2 558.7 735.5 558.3 C 718.8 557.9 707.2 559.4 695.0 561.0 C 682.8 562.6 672.8 564.0 662.4 568.2 C 652.0 572.5 639.7 578.5 632.5 586.5 C 625.3 594.5 621.0 606.6 619.2 616.4 C 617.4 626.1 617.9 636.1 621.5 645.0 C 625.1 653.9 631.4 661.4 641.0 670.0 C 650.6 678.6 668.2 689.4 679.0 696.5 C 689.8 703.6 698.7 706.7 705.6 712.7 C 712.5 718.7 717.2 725.4 720.5 732.6 C 723.8 739.8 724.4 749.2 725.5 755.8 C 726.6 762.4 726.9 762.7 727.2 772.4 C 727.5 782.1 727.2 807.1 727.2 814.0  Z" fill="url(#blb)"/><path d="M 747.1 814.0 C 747.1 807.1 746.8 783.8 747.1 772.4 C 747.4 761.0 746.2 753.9 748.7 745.9 C 751.2 737.9 754.8 731.5 762.0 724.3 C 769.2 717.1 781.9 710.2 791.9 702.7 C 801.9 695.2 813.5 687.2 821.8 679.5 C 830.1 671.8 836.7 665.6 841.7 656.2 C 846.7 646.8 850.9 633.0 851.7 623.0 C 852.5 613.0 850.6 604.2 846.7 596.5 C 842.8 588.8 837.0 582.0 828.4 576.5 C 819.8 571.0 810.7 566.2 795.2 563.2 C 779.7 560.2 752.2 558.7 735.5 558.3 C 718.8 557.9 707.2 559.4 695.0 561.0 C 682.8 562.6 672.8 564.0 662.4 568.2 C 652.0 572.5 639.7 578.5 632.5 586.5 C 625.3 594.5 621.0 606.6 619.2 616.4 C 617.4 626.1 617.9 636.1 621.5 645.0 C 625.1 653.9 631.4 661.4 641.0 670.0 C 650.6 678.6 668.2 689.4 679.0 696.5 C 689.8 703.6 698.7 706.7 705.6 712.7 C 712.5 718.7 717.2 725.4 720.5 732.6 C 723.8 739.8 724.4 749.2 725.5 755.8 C 726.6 762.4 726.9 762.7 727.2 772.4 C 727.5 782.1 727.2 807.1 727.2 814.0  Z" fill="none" stroke="#a8303e" stroke-width="9.0" stroke-opacity="0.85" clip-path="url(#c4)" filter="url(#blur1)"/><path d="M 747.1 814.0 C 747.1 807.1 746.8 783.8 747.1 772.4 C 747.4 761.0 746.2 753.9 748.7 745.9 C 751.2 737.9 754.8 731.5 762.0 724.3 C 769.2 717.1 781.9 710.2 791.9 702.7 C 801.9 695.2 813.5 687.2 821.8 679.5 C 830.1 671.8 836.7 665.6 841.7 656.2 C 846.7 646.8 850.9 633.0 851.7 623.0 C 852.5 613.0 850.6 604.2 846.7 596.5 C 842.8 588.8 837.0 582.0 828.4 576.5 C 819.8 571.0 810.7 566.2 795.2 563.2 C 779.7 560.2 752.2 558.7 735.5 558.3 C 718.8 557.9 707.2 559.4 695.0 561.0 C 682.8 562.6 672.8 564.0 662.4 568.2 C 652.0 572.5 639.7 578.5 632.5 586.5 C 625.3 594.5 621.0 606.6 619.2 616.4 C 617.4 626.1 617.9 636.1 621.5 645.0 C 625.1 653.9 631.4 661.4 641.0 670.0 C 650.6 678.6 668.2 689.4 679.0 696.5 C 689.8 703.6 698.7 706.7 705.6 712.7 C 712.5 718.7 717.2 725.4 720.5 732.6 C 723.8 739.8 724.4 749.2 725.5 755.8 C 726.6 762.4 726.9 762.7 727.2 772.4 C 727.5 782.1 727.2 807.1 727.2 814.0  Z" fill="none" stroke="#6a1e30" stroke-width="2.4" stroke-linejoin="miter"/>
<clipPath id="blbclip"><path d="M 747.1 814.0 C 747.1 807.1 746.8 783.8 747.1 772.4 C 747.4 761.0 746.2 753.9 748.7 745.9 C 751.2 737.9 754.8 731.5 762.0 724.3 C 769.2 717.1 781.9 710.2 791.9 702.7 C 801.9 695.2 813.5 687.2 821.8 679.5 C 830.1 671.8 836.7 665.6 841.7 656.2 C 846.7 646.8 850.9 633.0 851.7 623.0 C 852.5 613.0 850.6 604.2 846.7 596.5 C 842.8 588.8 837.0 582.0 828.4 576.5 C 819.8 571.0 810.7 566.2 795.2 563.2 C 779.7 560.2 752.2 558.7 735.5 558.3 C 718.8 557.9 707.2 559.4 695.0 561.0 C 682.8 562.6 672.8 564.0 662.4 568.2 C 652.0 572.5 639.7 578.5 632.5 586.5 C 625.3 594.5 621.0 606.6 619.2 616.4 C 617.4 626.1 617.9 636.1 621.5 645.0 C 625.1 653.9 631.4 661.4 641.0 670.0 C 650.6 678.6 668.2 689.4 679.0 696.5 C 689.8 703.6 698.7 706.7 705.6 712.7 C 712.5 718.7 717.2 725.4 720.5 732.6 C 723.8 739.8 724.4 749.2 725.5 755.8 C 726.6 762.4 726.9 762.7 727.2 772.4 C 727.5 782.1 727.2 807.1 727.2 814.0  Z"/></clipPath>
<g transform="translate(167.4 582.8) rotate(35.0)"><rect x="-12.0" y="-3.5" width="24.0" height="7.1" rx="3.5" fill="url(#bg)" stroke="#4b5a3a" stroke-width="1.1"/></g>
<g transform="translate(236.7 570.4) rotate(5.0)"><rect x="-12.0" y="-3.5" width="24.0" height="7.1" rx="3.5" fill="url(#bg)" stroke="#4b5a3a" stroke-width="1.1"/></g>
<g transform="translate(282.3 580.4) rotate(-40.0)"><rect x="-12.0" y="-3.5" width="24.0" height="7.1" rx="3.5" fill="url(#bg)" stroke="#4b5a3a" stroke-width="1.1"/></g>
<g transform="translate(248.2 601.0) rotate(3.0)"><rect x="-12.0" y="-3.5" width="24.0" height="7.1" rx="3.5" fill="url(#bg)" stroke="#4b5a3a" stroke-width="1.1"/></g>
<g transform="translate(183.5 613.8) rotate(-80.0)"><rect x="-12.0" y="-3.5" width="24.0" height="7.1" rx="3.5" fill="url(#bg)" stroke="#4b5a3a" stroke-width="1.1"/></g>
<g transform="translate(212.4 612.3) rotate(-25.0)"><rect x="-12.0" y="-3.5" width="24.0" height="7.1" rx="3.5" fill="url(#bg)" stroke="#4b5a3a" stroke-width="1.1"/></g>
<g transform="translate(136.5 618.3) rotate(20.0)"><rect x="-12.0" y="-3.5" width="24.0" height="7.1" rx="3.5" fill="url(#bg)" stroke="#4b5a3a" stroke-width="1.1"/></g>
<g transform="translate(217.0 650.2) rotate(-20.0)"><rect x="-12.0" y="-3.5" width="24.0" height="7.1" rx="3.5" fill="url(#bg)" stroke="#4b5a3a" stroke-width="1.1"/></g>
<g transform="translate(256.4 657.8) rotate(55.0)"><rect x="-12.0" y="-3.5" width="24.0" height="7.1" rx="3.5" fill="url(#bg)" stroke="#4b5a3a" stroke-width="1.1"/></g>
<g transform="translate(151.6 664.0) rotate(10.0)"><rect x="-12.0" y="-3.5" width="24.0" height="7.1" rx="3.5" fill="url(#bg)" stroke="#4b5a3a" stroke-width="1.1"/></g>
<g transform="translate(189.0 680.0) rotate(40.0)"><rect x="-12.0" y="-3.5" width="24.0" height="7.1" rx="3.5" fill="url(#bg)" stroke="#4b5a3a" stroke-width="1.1"/></g>
<g transform="translate(227.6 694.3) rotate(-60.0)"><rect x="-12.0" y="-3.5" width="24.0" height="7.1" rx="3.5" fill="url(#bg)" stroke="#4b5a3a" stroke-width="1.1"/></g>
<g transform="translate(312.6 654.8) rotate(-35.0)"><rect x="-12.0" y="-3.5" width="24.0" height="7.1" rx="3.5" fill="url(#bg)" stroke="#4b5a3a" stroke-width="1.1"/></g>
<g transform="translate(327.2 650.2) rotate(-55.0)"><rect x="-12.0" y="-3.5" width="24.0" height="7.1" rx="3.5" fill="url(#bg)" stroke="#4b5a3a" stroke-width="1.1"/></g>
<g transform="translate(309.6 667.0) rotate(-30.0)"><rect x="-12.0" y="-3.5" width="24.0" height="7.1" rx="3.5" fill="url(#bg)" stroke="#4b5a3a" stroke-width="1.1"/></g>
<g transform="translate(227.7 732.0) rotate(80.0)"><rect x="-12.0" y="-3.5" width="24.0" height="7.1" rx="3.5" fill="url(#bg)" stroke="#4b5a3a" stroke-width="1.1"/></g>
<g transform="translate(229.0 786.3) rotate(90.0)"><rect x="-12.0" y="-3.5" width="24.0" height="7.1" rx="3.5" fill="url(#bg)" stroke="#4b5a3a" stroke-width="1.1"/></g>
<g transform="translate(199.6 576.7)"><circle r="11.0" fill="#fdf2d6" stroke="#8c7456" stroke-width="1"/><circle r="3.2" fill="#ffffff" opacity="0.8"/><path d="M -4.7 -3.7 Q -7.5 2 -0.5 5.8 M -4.7 -3.7 Q 0 -7.5 4.8 -5" fill="none" stroke="#d06a5a" stroke-width="1.1"/><circle cx="-4.7" cy="-3.7" r="2.6" fill="#e05048"/><circle cx="4.8" cy="-5.0" r="2.6" fill="#e05048"/><circle cx="-0.5" cy="5.8" r="2.6" fill="#e05048"/></g>
<g transform="translate(157.1 630.5)"><circle r="11.0" fill="#fdf2d6" stroke="#8c7456" stroke-width="1"/><circle r="3.2" fill="#ffffff" opacity="0.8"/><path d="M -4.7 -3.7 Q -7.5 2 -0.5 5.8 M -4.7 -3.7 Q 0 -7.5 4.8 -5" fill="none" stroke="#d06a5a" stroke-width="1.1"/><circle cx="-4.7" cy="-3.7" r="2.6" fill="#e05048"/><circle cx="4.8" cy="-5.0" r="2.6" fill="#e05048"/><circle cx="-0.5" cy="5.8" r="2.6" fill="#e05048"/></g>
<g transform="translate(270.2 678.4)"><circle r="11.0" fill="#fdf2d6" stroke="#8c7456" stroke-width="1"/><circle r="3.2" fill="#ffffff" opacity="0.8"/><path d="M -4.7 -3.7 Q -7.5 2 -0.5 5.8 M -4.7 -3.7 Q 0 -7.5 4.8 -5" fill="none" stroke="#d06a5a" stroke-width="1.1"/><circle cx="-4.7" cy="-3.7" r="2.6" fill="#e05048"/><circle cx="4.8" cy="-5.0" r="2.6" fill="#e05048"/><circle cx="-0.5" cy="5.8" r="2.6" fill="#e05048"/></g>
<circle cx="314.2" cy="592.5" r="6.6" fill="url(#sph)" stroke="#3f6a3f" stroke-width="0.9"/>
<circle cx="326.3" cy="595.6" r="6.6" fill="url(#sph)" stroke="#3f6a3f" stroke-width="0.9"/>
<circle cx="302.9" cy="601.6" r="6.6" fill="url(#sph)" stroke="#3f6a3f" stroke-width="0.9"/>
<circle cx="317.2" cy="606.2" r="6.6" fill="url(#sph)" stroke="#3f6a3f" stroke-width="0.9"/>
<circle cx="330.3" cy="609.2" r="6.6" fill="url(#sph)" stroke="#3f6a3f" stroke-width="0.9"/>
<circle cx="308.1" cy="615.3" r="6.6" fill="url(#sph)" stroke="#3f6a3f" stroke-width="0.9"/>
<circle cx="321.1" cy="619.3" r="6.6" fill="url(#sph)" stroke="#3f6a3f" stroke-width="0.9"/>
<circle cx="334.5" cy="622.3" r="6.6" fill="url(#sph)" stroke="#3f6a3f" stroke-width="0.9"/>
<circle cx="311.1" cy="629.6" r="6.6" fill="url(#sph)" stroke="#3f6a3f" stroke-width="0.9"/>
<circle cx="324.8" cy="631.4" r="6.6" fill="url(#sph)" stroke="#3f6a3f" stroke-width="0.9"/>
<g transform="translate(131.0 59.0) rotate(47.0)"><rect x="-12.0" y="-3.5" width="24.0" height="7.1" rx="3.5" fill="url(#bg)" stroke="#4b5a3a" stroke-width="1.1"/></g>
<g transform="translate(72.0 70.4) rotate(-61.0)"><rect x="-12.0" y="-3.5" width="24.0" height="7.1" rx="3.5" fill="url(#bg)" stroke="#4b5a3a" stroke-width="1.1"/></g>
<g transform="translate(126.7 104.7) rotate(-30.0)"><rect x="-12.0" y="-3.5" width="24.0" height="7.1" rx="3.5" fill="url(#bg)" stroke="#4b5a3a" stroke-width="1.1"/></g>
<g transform="translate(76.2 119.8) rotate(-85.0)"><rect x="-12.0" y="-3.5" width="24.0" height="7.1" rx="3.5" fill="url(#bg)" stroke="#4b5a3a" stroke-width="1.1"/></g>
<g transform="translate(31.1 135.7) rotate(69.0)"><rect x="-12.0" y="-3.5" width="24.0" height="7.1" rx="3.5" fill="url(#bg)" stroke="#4b5a3a" stroke-width="1.1"/></g>
<g transform="translate(109.1 142.8) rotate(35.0)"><rect x="-12.0" y="-3.5" width="24.0" height="7.1" rx="3.5" fill="url(#bg)" stroke="#4b5a3a" stroke-width="1.1"/></g>
<g transform="translate(101.0 176.5) rotate(-31.0)"><rect x="-12.0" y="-3.5" width="24.0" height="7.1" rx="3.5" fill="url(#bg)" stroke="#4b5a3a" stroke-width="1.1"/></g>
<g transform="translate(42.5 206.0) rotate(44.0)"><rect x="-12.0" y="-3.5" width="24.0" height="7.1" rx="3.5" fill="url(#bg)" stroke="#4b5a3a" stroke-width="1.1"/></g>
<g transform="translate(100.5 223.3) rotate(-14.0)"><rect x="-12.0" y="-3.5" width="24.0" height="7.1" rx="3.5" fill="url(#bg)" stroke="#4b5a3a" stroke-width="1.1"/></g>
<g transform="translate(410.6 100.7) rotate(24.0)"><rect x="-12.0" y="-3.5" width="24.0" height="7.1" rx="3.5" fill="url(#bg)" stroke="#4b5a3a" stroke-width="1.1"/></g>
<g transform="translate(372.7 129.0) rotate(-56.0)"><rect x="-12.0" y="-3.5" width="24.0" height="7.1" rx="3.5" fill="url(#bg)" stroke="#4b5a3a" stroke-width="1.1"/></g>
<g transform="translate(441.9 149.5) rotate(0.0)"><rect x="-12.0" y="-3.5" width="24.0" height="7.1" rx="3.5" fill="url(#bg)" stroke="#4b5a3a" stroke-width="1.1"/></g>
<g transform="translate(394.7 188.9) rotate(-56.0)"><rect x="-12.0" y="-3.5" width="24.0" height="7.1" rx="3.5" fill="url(#bg)" stroke="#4b5a3a" stroke-width="1.1"/></g>
<g transform="translate(468.7 201.0) rotate(88.0)"><rect x="-12.0" y="-3.5" width="24.0" height="7.1" rx="3.5" fill="url(#bg)" stroke="#4b5a3a" stroke-width="1.1"/></g>
<g transform="translate(373.2 244.3) rotate(59.0)"><rect x="-12.0" y="-3.5" width="24.0" height="7.1" rx="3.5" fill="url(#bg)" stroke="#4b5a3a" stroke-width="1.1"/></g>
<g transform="translate(431.4 264.6) rotate(-27.0)"><rect x="-12.0" y="-3.5" width="24.0" height="7.1" rx="3.5" fill="url(#bg)" stroke="#4b5a3a" stroke-width="1.1"/></g>
<g transform="translate(154.2 125.0) rotate(6.0)"><rect x="-12.0" y="-3.5" width="24.0" height="7.1" rx="3.5" fill="url(#bg)" stroke="#4b5a3a" stroke-width="1.1"/></g>
<g transform="translate(355.6 163.0) rotate(10.0)"><rect x="-12.0" y="-3.5" width="24.0" height="7.1" rx="3.5" fill="url(#bg)" stroke="#4b5a3a" stroke-width="1.1"/></g>
<g transform="translate(245.7 79.0) rotate(90.0)"><rect x="-12.0" y="-3.5" width="24.0" height="7.1" rx="3.5" fill="url(#bg)" stroke="#4b5a3a" stroke-width="1.1"/></g>
<g transform="translate(238.5 128.5) rotate(-55.0)"><rect x="-12.0" y="-3.5" width="24.0" height="7.1" rx="3.5" fill="url(#bg)" stroke="#4b5a3a" stroke-width="1.1"/></g>
<g transform="translate(267.3 106.3) rotate(90.0)"><rect x="-12.0" y="-3.5" width="24.0" height="7.1" rx="3.5" fill="url(#bg)" stroke="#4b5a3a" stroke-width="1.1"/></g>
<g transform="translate(267.0 142.0) rotate(88.0)"><rect x="-12.0" y="-3.5" width="24.0" height="7.1" rx="3.5" fill="url(#bg)" stroke="#4b5a3a" stroke-width="1.1"/></g>
<g transform="translate(259.5 287.5) rotate(88.0)"><rect x="-12.0" y="-3.5" width="24.0" height="7.1" rx="3.5" fill="url(#bg)" stroke="#4b5a3a" stroke-width="1.1"/></g>
<g transform="translate(182.4 164.8) rotate(25.0)"><rect x="-12.0" y="-3.5" width="24.0" height="7.1" rx="3.5" fill="url(#bg)" stroke="#4b5a3a" stroke-width="1.1"/></g>
<g transform="translate(326.0 184.0) rotate(-5.0)"><rect x="-12.0" y="-3.5" width="24.0" height="7.1" rx="3.5" fill="url(#bg)" stroke="#4b5a3a" stroke-width="1.1"/></g>
<g transform="translate(166.7 261.1) rotate(-68.0)"><rect x="-12.0" y="-3.5" width="24.0" height="7.1" rx="3.5" fill="url(#bg)" stroke="#4b5a3a" stroke-width="1.1"/></g>
<g transform="translate(105.2 371.8) rotate(-72.0)"><rect x="-12.0" y="-3.5" width="24.0" height="7.1" rx="3.5" fill="url(#bg)" stroke="#4b5a3a" stroke-width="1.1"/></g>
<g transform="translate(108.7 489.1) rotate(68.0)"><rect x="-12.0" y="-3.5" width="24.0" height="7.1" rx="3.5" fill="url(#bg)" stroke="#4b5a3a" stroke-width="1.1"/></g>
<g transform="translate(133.3 540.0) rotate(57.0)"><rect x="-12.0" y="-3.5" width="24.0" height="7.1" rx="3.5" fill="url(#bg)" stroke="#4b5a3a" stroke-width="1.1"/></g>
<g transform="translate(337.8 218.9) rotate(-72.0)"><rect x="-12.0" y="-3.5" width="24.0" height="7.1" rx="3.5" fill="url(#bg)" stroke="#4b5a3a" stroke-width="1.1"/></g>
<g transform="translate(336.9 307.6) rotate(65.0)"><rect x="-12.0" y="-3.5" width="24.0" height="7.1" rx="3.5" fill="url(#bg)" stroke="#4b5a3a" stroke-width="1.1"/></g>
<g transform="translate(369.0 418.8) rotate(88.0)"><rect x="-12.0" y="-3.5" width="24.0" height="7.1" rx="3.5" fill="url(#bg)" stroke="#4b5a3a" stroke-width="1.1"/></g>
<g transform="translate(342.6 519.1) rotate(-65.0)"><rect x="-12.0" y="-3.5" width="24.0" height="7.1" rx="3.5" fill="url(#bg)" stroke="#4b5a3a" stroke-width="1.1"/></g>
<g clip-path="url(#blbclip)"><path d="M 671.3 632.1 q -0.7 -5.8 3.3 -11.2" stroke="#3d9a3a" stroke-width="1.6" fill="none" stroke-linecap="round"/><path d="M 695.7 625.0 q 4.6 -2.5 5.4 -3.9" stroke="#f5cf2a" stroke-width="1.6" fill="none" stroke-linecap="round"/><path d="M 631.8 594.2 q 1.6 -2.9 -1.0 -8.4" stroke="#f5cf2a" stroke-width="1.6" fill="none" stroke-linecap="round"/><path d="M 636.1 636.4 q 1.3 6.1 6.2 7.4" stroke="#f5cf2a" stroke-width="1.6" fill="none" stroke-linecap="round"/><path d="M 636.7 599.2 q 0.2 7.7 3.6 10.7" stroke="#f5cf2a" stroke-width="1.6" fill="none" stroke-linecap="round"/><path d="M 653.1 576.7 q -7.2 2.0 -10.0 5.9" stroke="#f2b82a" stroke-width="1.6" fill="none" stroke-linecap="round"/><path d="M 675.5 601.0 q -1.0 3.5 -4.0 10.1" stroke="#f5cf2a" stroke-width="1.6" fill="none" stroke-linecap="round"/><path d="M 659.9 588.6 q 1.5 3.4 -0.5 11.6" stroke="#f2b82a" stroke-width="1.6" fill="none" stroke-linecap="round"/><path d="M 683.9 603.2 q -1.6 -0.8 -5.3 -2.9" stroke="#f5cf2a" stroke-width="1.6" fill="none" stroke-linecap="round"/><path d="M 642.7 638.1 q -5.7 0.9 -8.8 2.1" stroke="#3d9a3a" stroke-width="1.6" fill="none" stroke-linecap="round"/><path d="M 668.8 635.1 q -0.4 0.8 -5.2 5.8" stroke="#f5cf2a" stroke-width="1.6" fill="none" stroke-linecap="round"/><path d="M 649.9 622.0 q 1.5 -1.0 7.0 -4.0" stroke="#3d9a3a" stroke-width="1.6" fill="none" stroke-linecap="round"/><path d="M 647.3 636.5 q -1.1 -5.4 -7.2 -7.4" stroke="#f2b82a" stroke-width="1.6" fill="none" stroke-linecap="round"/><path d="M 664.5 606.3 q 0.2 4.4 0.8 9.5" stroke="#f2b82a" stroke-width="1.6" fill="none" stroke-linecap="round"/><path d="M 626.5 613.0 q 4.0 -2.2 3.6 -5.8" stroke="#3d9a3a" stroke-width="1.6" fill="none" stroke-linecap="round"/><path d="M 657.0 586.5 q 4.3 -2.6 4.4 -6.4" stroke="#f5cf2a" stroke-width="1.6" fill="none" stroke-linecap="round"/><path d="M 636.9 615.2 q 4.8 -2.3 9.8 -2.5" stroke="#f2b82a" stroke-width="1.6" fill="none" stroke-linecap="round"/><path d="M 654.7 586.3 q -3.6 4.2 -8.5 8.3" stroke="#f5cf2a" stroke-width="1.6" fill="none" stroke-linecap="round"/><path d="M 649.7 581.9 q -1.4 6.7 -1.5 10.6" stroke="#3d9a3a" stroke-width="1.6" fill="none" stroke-linecap="round"/><path d="M 682.9 628.5 q -2.4 -3.7 -5.4 -9.1" stroke="#f2b82a" stroke-width="1.6" fill="none" stroke-linecap="round"/><path d="M 687.5 595.4 q 5.9 -0.2 10.2 -1.2" stroke="#f2b82a" stroke-width="1.6" fill="none" stroke-linecap="round"/><path d="M 624.9 617.1 q -1.1 5.0 -0.0 10.0" stroke="#f5cf2a" stroke-width="1.6" fill="none" stroke-linecap="round"/><path d="M 675.2 602.5 q -1.4 5.7 -1.2 8.0" stroke="#f5cf2a" stroke-width="1.6" fill="none" stroke-linecap="round"/><path d="M 690.1 628.0 q 4.0 1.5 11.6 -1.8" stroke="#3d9a3a" stroke-width="1.6" fill="none" stroke-linecap="round"/><path d="M 639.1 602.9 q 3.4 -1.9 4.7 -6.1" stroke="#f5cf2a" stroke-width="1.6" fill="none" stroke-linecap="round"/><path d="M 637.1 635.1 q -5.4 -2.2 -8.7 -4.9" stroke="#f5cf2a" stroke-width="1.6" fill="none" stroke-linecap="round"/><path d="M 689.9 595.8 q 3.3 0.7 7.2 -0.2" stroke="#3d9a3a" stroke-width="1.6" fill="none" stroke-linecap="round"/><path d="M 640.6 627.8 q 0.3 -4.0 -4.3 -4.6" stroke="#f5cf2a" stroke-width="1.6" fill="none" stroke-linecap="round"/><path d="M 697.6 612.2 q -4.7 -0.7 -8.1 -2.5" stroke="#f2b82a" stroke-width="1.6" fill="none" stroke-linecap="round"/><path d="M 668.9 593.3 q 4.7 0.1 4.9 -3.4" stroke="#f5cf2a" stroke-width="1.6" fill="none" stroke-linecap="round"/><path d="M 689.8 628.0 q -5.1 -3.7 -11.3 -3.4" stroke="#3d9a3a" stroke-width="1.6" fill="none" stroke-linecap="round"/><path d="M 665.4 601.1 q -5.5 -1.3 -10.3 -5.7" stroke="#f5cf2a" stroke-width="1.6" fill="none" stroke-linecap="round"/><path d="M 672.8 603.4 q 2.9 2.2 6.0 7.5" stroke="#3d9a3a" stroke-width="1.6" fill="none" stroke-linecap="round"/><path d="M 686.4 625.9 q -2.7 1.8 -5.9 5.4" stroke="#3d9a3a" stroke-width="1.6" fill="none" stroke-linecap="round"/><path d="M 690.6 618.5 q -6.4 4.9 -10.7 5.1" stroke="#f5cf2a" stroke-width="1.6" fill="none" stroke-linecap="round"/><path d="M 652.9 649.0 q 5.3 -3.5 8.2 -4.9" stroke="#f2b82a" stroke-width="1.6" fill="none" stroke-linecap="round"/><path d="M 625.8 625.8 q 5.0 0.7 7.2 -1.8" stroke="#f5cf2a" stroke-width="1.6" fill="none" stroke-linecap="round"/><path d="M 625.0 616.0 q -2.1 4.6 -1.7 11.5" stroke="#f5cf2a" stroke-width="1.6" fill="none" stroke-linecap="round"/><path d="M 646.3 621.8 q -3.0 2.8 -9.7 1.6" stroke="#3d9a3a" stroke-width="1.6" fill="none" stroke-linecap="round"/><path d="M 645.5 629.5 q -4.1 -4.1 -7.9 -6.8" stroke="#f5cf2a" stroke-width="1.6" fill="none" stroke-linecap="round"/><path d="M 680.6 620.5 q 4.6 -1.1 7.3 1.7" stroke="#f5cf2a" stroke-width="1.6" fill="none" stroke-linecap="round"/><path d="M 676.2 589.7 q -4.5 3.4 -9.8 4.6" stroke="#3d9a3a" stroke-width="1.6" fill="none" stroke-linecap="round"/><path d="M 672.0 612.1 q 4.4 -1.1 7.1 -4.4" stroke="#f5cf2a" stroke-width="1.6" fill="none" stroke-linecap="round"/><path d="M 692.3 610.8 q 1.2 -4.2 0.4 -7.8" stroke="#f5cf2a" stroke-width="1.6" fill="none" stroke-linecap="round"/><path d="M 645.8 635.1 q 3.9 0.1 5.8 -3.6" stroke="#f5cf2a" stroke-width="1.6" fill="none" stroke-linecap="round"/><path d="M 697.9 616.4 q -6.3 0.7 -8.3 4.2" stroke="#f5cf2a" stroke-width="1.6" fill="none" stroke-linecap="round"/><path d="M 686.3 636.0 q 0.8 -0.1 -3.2 -5.3" stroke="#f5cf2a" stroke-width="1.6" fill="none" stroke-linecap="round"/><path d="M 688.0 591.9 q -1.1 -3.6 -7.1 -9.3" stroke="#f5cf2a" stroke-width="1.6" fill="none" stroke-linecap="round"/><path d="M 657.3 589.1 q 2.8 2.7 4.3 9.9" stroke="#f5cf2a" stroke-width="1.6" fill="none" stroke-linecap="round"/><path d="M 632.2 604.2 q 0.9 0.9 5.7 2.8" stroke="#3d9a3a" stroke-width="1.6" fill="none" stroke-linecap="round"/><path d="M 630.9 627.8 q -2.0 -1.5 -8.1 0.5" stroke="#f2b82a" stroke-width="1.6" fill="none" stroke-linecap="round"/><path d="M 646.4 618.8 q -1.4 -4.9 -3.4 -7.0" stroke="#3d9a3a" stroke-width="1.6" fill="none" stroke-linecap="round"/><path d="M 687.3 596.8 q 5.1 -1.4 10.7 -1.7" stroke="#f2b82a" stroke-width="1.6" fill="none" stroke-linecap="round"/><path d="M 650.0 619.1 q 5.9 -0.1 10.9 2.5" stroke="#3d9a3a" stroke-width="1.6" fill="none" stroke-linecap="round"/><path d="M 690.6 612.0 q -2.2 4.3 -4.8 9.7" stroke="#f5cf2a" stroke-width="1.6" fill="none" stroke-linecap="round"/><path d="M 656.6 636.2 q 1.6 -5.1 -0.0 -6.5" stroke="#f5cf2a" stroke-width="1.6" fill="none" stroke-linecap="round"/><path d="M 671.5 602.3 q 1.4 5.5 0.8 8.0" stroke="#3d9a3a" stroke-width="1.6" fill="none" stroke-linecap="round"/><path d="M 652.7 630.6 q -0.1 2.3 -4.9 6.0" stroke="#f5cf2a" stroke-width="1.6" fill="none" stroke-linecap="round"/><path d="M 640.3 588.9 q 1.4 -1.1 5.7 2.4" stroke="#f5cf2a" stroke-width="1.6" fill="none" stroke-linecap="round"/><path d="M 691.6 612.0 q -0.8 -0.8 0.4 -6.0" stroke="#f5cf2a" stroke-width="1.6" fill="none" stroke-linecap="round"/><path d="M 694.1 599.9 q -5.6 2.7 -6.9 1.7" stroke="#f5cf2a" stroke-width="1.6" fill="none" stroke-linecap="round"/><path d="M 690.0 611.2 q -1.9 -0.2 -6.3 -2.1" stroke="#f5cf2a" stroke-width="1.6" fill="none" stroke-linecap="round"/><path d="M 650.2 632.9 q -0.4 2.8 -2.6 5.8" stroke="#f5cf2a" stroke-width="1.6" fill="none" stroke-linecap="round"/><path d="M 674.8 597.4 q -4.7 -3.5 -4.7 -9.2" stroke="#f5cf2a" stroke-width="1.6" fill="none" stroke-linecap="round"/><path d="M 667.7 625.5 q -3.3 -5.4 -8.5 -7.7" stroke="#f2b82a" stroke-width="1.6" fill="none" stroke-linecap="round"/><path d="M 651.5 580.1 q 2.8 -1.6 8.8 -0.4" stroke="#f5cf2a" stroke-width="1.6" fill="none" stroke-linecap="round"/><path d="M 627.3 621.9 q -2.8 -2.4 -1.1 -7.5" stroke="#f5cf2a" stroke-width="1.6" fill="none" stroke-linecap="round"/><path d="M 655.2 578.5 q -5.4 0.4 -11.4 -3.6" stroke="#3d9a3a" stroke-width="1.6" fill="none" stroke-linecap="round"/><path d="M 678.5 593.2 q -1.2 -4.4 2.1 -6.2" stroke="#f5cf2a" stroke-width="1.6" fill="none" stroke-linecap="round"/><path d="M 627.8 605.6 q 3.2 2.1 7.0 2.8" stroke="#f5cf2a" stroke-width="1.6" fill="none" stroke-linecap="round"/><path d="M 638.8 628.6 q -4.3 -3.7 -4.5 -5.5" stroke="#f5cf2a" stroke-width="1.6" fill="none" stroke-linecap="round"/><path d="M 632.2 616.7 q 4.8 -2.6 8.4 -4.6" stroke="#f5cf2a" stroke-width="1.6" fill="none" stroke-linecap="round"/><path d="M 651.2 607.6 q 1.6 -2.5 1.0 -9.1" stroke="#f5cf2a" stroke-width="1.6" fill="none" stroke-linecap="round"/><path d="M 647.4 609.6 q -0.1 -3.3 3.4 -6.5" stroke="#f5cf2a" stroke-width="1.6" fill="none" stroke-linecap="round"/><path d="M 683.3 595.3 q -4.9 0.7 -5.6 3.9" stroke="#3d9a3a" stroke-width="1.6" fill="none" stroke-linecap="round"/><path d="M 630.4 608.0 q -3.3 -3.0 -6.6 -3.5" stroke="#f5cf2a" stroke-width="1.6" fill="none" stroke-linecap="round"/><path d="M 677.5 636.3 q 3.8 -4.7 8.4 -7.6" stroke="#f5cf2a" stroke-width="1.6" fill="none" stroke-linecap="round"/><path d="M 681.2 617.8 q 4.3 -3.3 7.9 -6.0" stroke="#f5cf2a" stroke-width="1.6" fill="none" stroke-linecap="round"/><path d="M 686.1 625.5 q 3.8 0.1 10.0 -2.9" stroke="#f5cf2a" stroke-width="1.6" fill="none" stroke-linecap="round"/><path d="M 653.1 585.0 q 3.2 0.5 6.4 2.8" stroke="#f2b82a" stroke-width="1.6" fill="none" stroke-linecap="round"/><path d="M 626.6 616.8 q -2.5 -4.9 -0.4 -6.2" stroke="#f5cf2a" stroke-width="1.6" fill="none" stroke-linecap="round"/><path d="M 651.1 641.2 q 4.7 -3.4 9.2 -3.0" stroke="#f5cf2a" stroke-width="1.6" fill="none" stroke-linecap="round"/><path d="M 639.3 602.6 q 3.7 2.1 5.0 8.3" stroke="#f5cf2a" stroke-width="1.6" fill="none" stroke-linecap="round"/><path d="M 664.3 588.2 q 0.4 -6.1 -2.2 -8.4" stroke="#f5cf2a" stroke-width="1.6" fill="none" stroke-linecap="round"/><path d="M 648.1 645.5 q -6.4 1.9 -8.3 2.1" stroke="#f5cf2a" stroke-width="1.6" fill="none" stroke-linecap="round"/><path d="M 636.2 611.4 q -1.4 -0.2 -6.0 0.3" stroke="#f5cf2a" stroke-width="1.6" fill="none" stroke-linecap="round"/><path d="M 626.5 619.4 q -5.8 -0.9 -11.2 1.3" stroke="#f5cf2a" stroke-width="1.6" fill="none" stroke-linecap="round"/><path d="M 686.4 598.3 q -5.9 1.0 -10.5 -1.1" stroke="#f5cf2a" stroke-width="1.6" fill="none" stroke-linecap="round"/><path d="M 685.9 626.1 q 2.2 -3.5 5.3 -3.5" stroke="#f5cf2a" stroke-width="1.6" fill="none" stroke-linecap="round"/><path d="M 687.2 612.7 q 4.7 -0.3 6.8 1.6" stroke="#f5cf2a" stroke-width="1.6" fill="none" stroke-linecap="round"/><path d="M 681.4 611.7 q -3.0 0.2 -9.0 1.7" stroke="#f5cf2a" stroke-width="1.6" fill="none" stroke-linecap="round"/><path d="M 624.8 614.4 q -5.4 -1.0 -6.1 -3.7" stroke="#f5cf2a" stroke-width="1.6" fill="none" stroke-linecap="round"/><path d="M 670.4 614.5 q -4.9 1.4 -9.3 -0.1" stroke="#f5cf2a" stroke-width="1.6" fill="none" stroke-linecap="round"/><path d="M 668.0 647.0 q -1.5 -1.8 -6.0 -2.2" stroke="#f5cf2a" stroke-width="1.6" fill="none" stroke-linecap="round"/><path d="M 669.1 627.3 q -6.2 0.8 -7.6 -1.1" stroke="#f5cf2a" stroke-width="1.6" fill="none" stroke-linecap="round"/><path d="M 670.4 641.4 q 2.8 -0.5 7.9 -3.1" stroke="#f5cf2a" stroke-width="1.6" fill="none" stroke-linecap="round"/><path d="M 629.5 633.0 q -1.9 -3.5 -5.7 -10.3" stroke="#f2b82a" stroke-width="1.6" fill="none" stroke-linecap="round"/><path d="M 680.1 622.0 q -0.1 6.8 2.3 8.8" stroke="#f5cf2a" stroke-width="1.6" fill="none" stroke-linecap="round"/><path d="M 665.3 605.3 q 5.4 0.2 8.3 0.2" stroke="#f5cf2a" stroke-width="1.6" fill="none" stroke-linecap="round"/><path d="M 639.7 627.2 q -0.8 6.0 -3.4 7.2" stroke="#3d9a3a" stroke-width="1.6" fill="none" stroke-linecap="round"/><path d="M 642.9 582.7 q -3.6 7.4 -2.9 10.4" stroke="#3d9a3a" stroke-width="1.6" fill="none" stroke-linecap="round"/><path d="M 629.8 606.8 q 2.3 6.2 3.9 9.1" stroke="#3d9a3a" stroke-width="1.6" fill="none" stroke-linecap="round"/><path d="M 690.8 631.1 q -3.2 0.9 -7.4 4.3" stroke="#3d9a3a" stroke-width="1.6" fill="none" stroke-linecap="round"/><path d="M 655.8 581.5 q 0.7 -4.5 6.1 -5.1" stroke="#f5cf2a" stroke-width="1.6" fill="none" stroke-linecap="round"/><path d="M 666.8 621.5 q -0.5 4.7 2.9 6.5" stroke="#3d9a3a" stroke-width="1.6" fill="none" stroke-linecap="round"/><path d="M 649.1 580.9 q 5.5 -1.9 6.5 -2.0" stroke="#3d9a3a" stroke-width="1.6" fill="none" stroke-linecap="round"/><path d="M 688.6 624.7 q 5.0 -1.8 6.6 -3.3" stroke="#3d9a3a" stroke-width="1.6" fill="none" stroke-linecap="round"/><path d="M 631.7 589.9 q 1.2 4.0 3.6 5.5" stroke="#f5cf2a" stroke-width="1.6" fill="none" stroke-linecap="round"/><path d="M 667.7 609.0 q -1.3 6.9 -4.7 9.5" stroke="#f5cf2a" stroke-width="1.6" fill="none" stroke-linecap="round"/><path d="M 696.7 623.1 q 4.8 -2.2 6.5 -1.4" stroke="#f5cf2a" stroke-width="1.6" fill="none" stroke-linecap="round"/><path d="M 648.6 588.3 q 3.3 -1.6 9.2 -7.6" stroke="#f5cf2a" stroke-width="1.6" fill="none" stroke-linecap="round"/><path d="M 653.0 601.4 q -2.6 -2.9 -0.4 -8.9" stroke="#f2b82a" stroke-width="1.6" fill="none" stroke-linecap="round"/><path d="M 638.9 601.5 q 4.0 3.4 7.2 8.9" stroke="#f5cf2a" stroke-width="1.6" fill="none" stroke-linecap="round"/><path d="M 649.6 640.3 q -0.7 -1.5 -6.3 -0.8" stroke="#f5cf2a" stroke-width="1.6" fill="none" stroke-linecap="round"/><path d="M 678.7 586.2 q 7.0 -0.7 9.1 -1.9" stroke="#f5cf2a" stroke-width="1.6" fill="none" stroke-linecap="round"/><path d="M 653.4 646.9 q 0.9 3.5 6.8 4.4" stroke="#f5cf2a" stroke-width="1.6" fill="none" stroke-linecap="round"/><path d="M 643.1 610.3 q -1.0 1.5 -6.7 6.1" stroke="#f5cf2a" stroke-width="1.6" fill="none" stroke-linecap="round"/><path d="M 663.5 648.6 q -4.5 -5.4 -9.0 -6.4" stroke="#f5cf2a" stroke-width="1.6" fill="none" stroke-linecap="round"/><path d="M 653.8 634.9 q -3.7 -0.4 -8.8 3.8" stroke="#3d9a3a" stroke-width="1.6" fill="none" stroke-linecap="round"/><path d="M 655.4 642.3 q 0.2 -3.5 5.3 -10.2" stroke="#f5cf2a" stroke-width="1.6" fill="none" stroke-linecap="round"/><path d="M 636.7 601.1 q 1.3 2.0 -2.3 6.8" stroke="#f5cf2a" stroke-width="1.6" fill="none" stroke-linecap="round"/><path d="M 656.0 595.9 q -2.4 2.0 -7.6 1.5" stroke="#f5cf2a" stroke-width="1.6" fill="none" stroke-linecap="round"/><path d="M 629.8 627.9 q 2.6 -1.5 8.2 1.9" stroke="#f5cf2a" stroke-width="1.6" fill="none" stroke-linecap="round"/><path d="M 669.5 585.5 q -1.9 4.2 1.0 11.5" stroke="#3d9a3a" stroke-width="1.6" fill="none" stroke-linecap="round"/><path d="M 656.6 595.5 q -1.6 -4.0 0.2 -8.2" stroke="#f5cf2a" stroke-width="1.6" fill="none" stroke-linecap="round"/><path d="M 672.9 603.9 q -3.3 5.1 -6.0 6.5" stroke="#3d9a3a" stroke-width="1.6" fill="none" stroke-linecap="round"/><path d="M 653.3 593.3 q -0.3 -3.1 -3.2 -5.5" stroke="#f5cf2a" stroke-width="1.6" fill="none" stroke-linecap="round"/><path d="M 662.3 622.0 q -0.5 -2.1 1.7 -6.1" stroke="#3d9a3a" stroke-width="1.6" fill="none" stroke-linecap="round"/><path d="M 691.2 634.8 q -3.3 0.6 -8.1 -3.1" stroke="#f5cf2a" stroke-width="1.6" fill="none" stroke-linecap="round"/><path d="M 652.2 615.8 q 1.1 -6.6 -2.7 -11.3" stroke="#f5cf2a" stroke-width="1.6" fill="none" stroke-linecap="round"/><path d="M 629.9 609.6 q -2.4 -4.5 -0.8 -9.1" stroke="#f5cf2a" stroke-width="1.6" fill="none" stroke-linecap="round"/><path d="M 686.1 603.7 q -3.7 2.7 -7.3 4.7" stroke="#f5cf2a" stroke-width="1.6" fill="none" stroke-linecap="round"/><path d="M 639.8 610.0 q 5.0 0.6 6.1 2.4" stroke="#f2b82a" stroke-width="1.6" fill="none" stroke-linecap="round"/><path d="M 649.9 637.8 q -4.6 2.0 -6.8 0.7" stroke="#f5cf2a" stroke-width="1.6" fill="none" stroke-linecap="round"/><path d="M 671.6 604.9 q -2.1 -0.8 -5.2 -5.4" stroke="#f2b82a" stroke-width="1.6" fill="none" stroke-linecap="round"/><path d="M 669.1 618.6 q 0.9 -4.6 6.6 -4.7" stroke="#f5cf2a" stroke-width="1.6" fill="none" stroke-linecap="round"/><path d="M 686.6 613.1 q 1.7 -2.7 4.3 -4.5" stroke="#3d9a3a" stroke-width="1.6" fill="none" stroke-linecap="round"/><path d="M 664.4 609.1 q -3.1 -1.0 -8.2 -4.3" stroke="#f5cf2a" stroke-width="1.6" fill="none" stroke-linecap="round"/><path d="M 669.0 578.3 q 1.1 -2.7 -1.7 -7.6" stroke="#3d9a3a" stroke-width="1.6" fill="none" stroke-linecap="round"/><path d="M 629.3 624.5 q 0.7 -3.8 3.7 -5.6" stroke="#f2b82a" stroke-width="1.6" fill="none" stroke-linecap="round"/><path d="M 663.2 644.5 q -1.2 -0.2 -6.8 1.5" stroke="#f5cf2a" stroke-width="1.6" fill="none" stroke-linecap="round"/><path d="M 670.5 610.2 q 3.2 4.9 7.0 9.7" stroke="#f5cf2a" stroke-width="1.6" fill="none" stroke-linecap="round"/><path d="M 654.0 590.1 q 2.8 -1.4 6.0 -3.6" stroke="#3d9a3a" stroke-width="1.6" fill="none" stroke-linecap="round"/><path d="M 644.4 613.0 q -6.9 -2.9 -11.1 -2.6" stroke="#3d9a3a" stroke-width="1.6" fill="none" stroke-linecap="round"/><path d="M 666.0 594.4 q -3.1 3.8 -3.8 8.9" stroke="#f5cf2a" stroke-width="1.6" fill="none" stroke-linecap="round"/><path d="M 691.6 595.4 q -2.4 -5.5 -6.8 -7.1" stroke="#f5cf2a" stroke-width="1.6" fill="none" stroke-linecap="round"/><path d="M 645.6 633.2 q 1.7 5.5 4.6 9.6" stroke="#3d9a3a" stroke-width="1.6" fill="none" stroke-linecap="round"/><path d="M 679.0 595.1 q -4.3 1.1 -6.7 4.3" stroke="#f5cf2a" stroke-width="1.6" fill="none" stroke-linecap="round"/><path d="M 655.0 580.1 q 4.3 3.3 5.7 2.6" stroke="#f5cf2a" stroke-width="1.6" fill="none" stroke-linecap="round"/><path d="M 662.5 583.0 q -1.0 2.1 -6.4 3.7" stroke="#f5cf2a" stroke-width="1.6" fill="none" stroke-linecap="round"/><path d="M 673.5 627.5 q -2.0 1.7 -3.6 7.3" stroke="#f5cf2a" stroke-width="1.6" fill="none" stroke-linecap="round"/><path d="M 682.4 583.8 q -3.8 -2.7 -6.3 -1.5" stroke="#3d9a3a" stroke-width="1.6" fill="none" stroke-linecap="round"/><path d="M 647.3 610.0 q 3.7 -4.6 2.7 -5.6" stroke="#3d9a3a" stroke-width="1.6" fill="none" stroke-linecap="round"/><path d="M 673.9 588.9 q -0.1 4.3 4.0 10.5" stroke="#3d9a3a" stroke-width="1.6" fill="none" stroke-linecap="round"/><path d="M 689.1 624.4 q -0.9 3.1 -3.2 8.7" stroke="#3d9a3a" stroke-width="1.6" fill="none" stroke-linecap="round"/><path d="M 636.6 623.4 q -6.1 1.6 -8.1 2.3" stroke="#3d9a3a" stroke-width="1.6" fill="none" stroke-linecap="round"/><path d="M 658.7 648.2 q -1.3 -6.0 1.0 -8.6" stroke="#f5cf2a" stroke-width="1.6" fill="none" stroke-linecap="round"/><path d="M 630.8 609.4 q -2.6 -3.9 -8.1 -7.6" stroke="#f5cf2a" stroke-width="1.6" fill="none" stroke-linecap="round"/><path d="M 646.6 643.1 q -2.4 -5.6 -7.1 -7.3" stroke="#3d9a3a" stroke-width="1.6" fill="none" stroke-linecap="round"/><path d="M 682.1 600.9 q -2.2 -2.6 -8.2 -5.4" stroke="#f5cf2a" stroke-width="1.6" fill="none" stroke-linecap="round"/><path d="M 669.9 621.6 q 3.2 0.9 7.2 2.7" stroke="#3d9a3a" stroke-width="1.6" fill="none" stroke-linecap="round"/><path d="M 673.8 633.3 q -1.3 -1.2 -0.8 -6.0" stroke="#f5cf2a" stroke-width="1.6" fill="none" stroke-linecap="round"/><path d="M 674.3 607.4 q 4.7 -4.2 5.3 -8.6" stroke="#f2b82a" stroke-width="1.6" fill="none" stroke-linecap="round"/><path d="M 648.9 628.1 q 0.7 -5.4 1.5 -5.9" stroke="#3d9a3a" stroke-width="1.6" fill="none" stroke-linecap="round"/><path d="M 684.1 634.4 q -0.9 -0.3 3.3 -5.3" stroke="#3d9a3a" stroke-width="1.6" fill="none" stroke-linecap="round"/><path d="M 680.0 588.0 q 2.9 3.4 4.3 7.9" stroke="#f5cf2a" stroke-width="1.6" fill="none" stroke-linecap="round"/><path d="M 673.0 592.6 q -0.0 4.2 -0.9 6.0" stroke="#f5cf2a" stroke-width="1.6" fill="none" stroke-linecap="round"/><path d="M 662.3 608.5 q -1.5 5.1 -3.6 9.8" stroke="#f2b82a" stroke-width="1.6" fill="none" stroke-linecap="round"/><path d="M 685.2 635.4 q 0.9 -7.4 -1.7 -11.2" stroke="#3d9a3a" stroke-width="1.6" fill="none" stroke-linecap="round"/><path d="M 682.2 583.2 q -4.3 1.2 -8.3 2.2" stroke="#f5cf2a" stroke-width="1.6" fill="none" stroke-linecap="round"/></g>
<g transform="translate(656.8 599.6) rotate(-20.0)"><rect x="-12.0" y="-3.5" width="24.0" height="7.1" rx="3.5" fill="url(#bg)" stroke="#4b5a3a" stroke-width="1.1"/></g>
<g transform="translate(643.0 627.6) rotate(-55.0)"><rect x="-12.0" y="-3.5" width="24.0" height="7.1" rx="3.5" fill="url(#bg)" stroke="#4b5a3a" stroke-width="1.1"/></g>
<g transform="translate(669.7 635.2) rotate(-20.0)"><rect x="-12.0" y="-3.5" width="24.0" height="7.1" rx="3.5" fill="url(#bg)" stroke="#4b5a3a" stroke-width="1.1"/></g>
<circle cx="679.5" cy="580.2" r="3.5" fill="url(#fib)" stroke="#a0581a" stroke-width="1"/><circle cx="640.9" cy="590.7" r="3.5" fill="url(#fib)" stroke="#a0581a" stroke-width="1"/><circle cx="646.5" cy="593.6" r="3.5" fill="url(#fib)" stroke="#a0581a" stroke-width="1"/><circle cx="652.2" cy="589.3" r="3.5" fill="url(#fib)" stroke="#a0581a" stroke-width="1"/><circle cx="660.6" cy="589.3" r="3.5" fill="url(#fib)" stroke="#a0581a" stroke-width="1"/><circle cx="671.8" cy="597.1" r="3.5" fill="url(#fib)" stroke="#a0581a" stroke-width="1"/><circle cx="682.3" cy="587.9" r="3.5" fill="url(#fib)" stroke="#a0581a" stroke-width="1"/><circle cx="642.3" cy="602.0" r="3.5" fill="url(#fib)" stroke="#a0581a" stroke-width="1"/><circle cx="665.5" cy="602.0" r="3.5" fill="url(#fib)" stroke="#a0581a" stroke-width="1"/><circle cx="686.5" cy="602.7" r="3.5" fill="url(#fib)" stroke="#a0581a" stroke-width="1"/><circle cx="631.8" cy="609.0" r="3.5" fill="url(#fib)" stroke="#a0581a" stroke-width="1"/><circle cx="638.1" cy="610.4" r="3.5" fill="url(#fib)" stroke="#a0581a" stroke-width="1"/><circle cx="657.1" cy="610.4" r="3.5" fill="url(#fib)" stroke="#a0581a" stroke-width="1"/><circle cx="680.2" cy="609.0" r="3.5" fill="url(#fib)" stroke="#a0581a" stroke-width="1"/><circle cx="695.6" cy="610.4" r="3.5" fill="url(#fib)" stroke="#a0581a" stroke-width="1"/><circle cx="626.9" cy="615.3" r="3.5" fill="url(#fib)" stroke="#a0581a" stroke-width="1"/><circle cx="650.7" cy="615.3" r="3.5" fill="url(#fib)" stroke="#a0581a" stroke-width="1"/><circle cx="662.7" cy="612.5" r="3.5" fill="url(#fib)" stroke="#a0581a" stroke-width="1"/><circle cx="672.5" cy="618.8" r="3.5" fill="url(#fib)" stroke="#a0581a" stroke-width="1"/><circle cx="681.6" cy="617.4" r="3.5" fill="url(#fib)" stroke="#a0581a" stroke-width="1"/><circle cx="694.9" cy="619.5" r="3.5" fill="url(#fib)" stroke="#a0581a" stroke-width="1"/><circle cx="634.6" cy="622.3" r="3.5" fill="url(#fib)" stroke="#a0581a" stroke-width="1"/><circle cx="664.8" cy="620.9" r="3.5" fill="url(#fib)" stroke="#a0581a" stroke-width="1"/><circle cx="676.7" cy="623.7" r="3.5" fill="url(#fib)" stroke="#a0581a" stroke-width="1"/><circle cx="688.6" cy="622.3" r="3.5" fill="url(#fib)" stroke="#a0581a" stroke-width="1"/><circle cx="627.6" cy="630.7" r="3.5" fill="url(#fib)" stroke="#a0581a" stroke-width="1"/><circle cx="653.6" cy="627.9" r="3.5" fill="url(#fib)" stroke="#a0581a" stroke-width="1"/><circle cx="659.9" cy="632.8" r="3.5" fill="url(#fib)" stroke="#a0581a" stroke-width="1"/><circle cx="643.7" cy="636.3" r="3.5" fill="url(#fib)" stroke="#a0581a" stroke-width="1"/><circle cx="655.0" cy="639.8" r="3.5" fill="url(#fib)" stroke="#a0581a" stroke-width="1"/><circle cx="630.4" cy="641.2" r="3.5" fill="url(#fib)" stroke="#a0581a" stroke-width="1"/><circle cx="669.7" cy="643.3" r="3.5" fill="url(#fib)" stroke="#a0581a" stroke-width="1"/><circle cx="677.4" cy="641.9" r="3.5" fill="url(#fib)" stroke="#a0581a" stroke-width="1"/><circle cx="640.2" cy="644.7" r="3.5" fill="url(#fib)" stroke="#a0581a" stroke-width="1"/><circle cx="648.6" cy="646.1" r="3.5" fill="url(#fib)" stroke="#a0581a" stroke-width="1"/><circle cx="658.5" cy="646.1" r="3.5" fill="url(#fib)" stroke="#a0581a" stroke-width="1"/>
<g clip-path="url(#blbclip)"><path d="M 682.3 623.0 q 1.0 -3.4 4.9 -8.3" stroke="#3d9a3a" stroke-width="1.2" fill="none" stroke-linecap="round"/><path d="M 657.7 613.7 q 3.0 -1.7 10.0 -2.0" stroke="#f5cf2a" stroke-width="1.2" fill="none" stroke-linecap="round"/><path d="M 630.8 592.0 q 2.7 1.9 8.6 0.2" stroke="#f2b82a" stroke-width="1.2" fill="none" stroke-linecap="round"/><path d="M 653.7 634.4 q 1.7 2.2 6.2 5.5" stroke="#f5cf2a" stroke-width="1.2" fill="none" stroke-linecap="round"/><path d="M 658.3 606.5 q 5.3 2.5 8.6 1.4" stroke="#f5cf2a" stroke-width="1.2" fill="none" stroke-linecap="round"/><path d="M 675.9 633.7 q 5.6 -2.2 7.9 -8.3" stroke="#f5cf2a" stroke-width="1.2" fill="none" stroke-linecap="round"/><path d="M 666.6 638.6 q -1.3 -6.4 -1.0 -10.4" stroke="#f5cf2a" stroke-width="1.2" fill="none" stroke-linecap="round"/><path d="M 675.8 634.2 q 1.0 2.3 3.3 8.6" stroke="#f5cf2a" stroke-width="1.2" fill="none" stroke-linecap="round"/><path d="M 670.0 602.9 q 2.6 4.1 4.8 6.1" stroke="#f5cf2a" stroke-width="1.2" fill="none" stroke-linecap="round"/><path d="M 677.3 610.9 q 2.6 -5.7 5.4 -10.0" stroke="#f5cf2a" stroke-width="1.2" fill="none" stroke-linecap="round"/><path d="M 652.1 643.2 q 0.1 4.9 -0.9 9.4" stroke="#f2b82a" stroke-width="1.2" fill="none" stroke-linecap="round"/><path d="M 637.0 607.8 q -5.2 0.0 -10.2 4.0" stroke="#f5cf2a" stroke-width="1.2" fill="none" stroke-linecap="round"/><path d="M 663.1 634.8 q -4.2 -1.8 -6.5 0.6" stroke="#3d9a3a" stroke-width="1.2" fill="none" stroke-linecap="round"/><path d="M 648.7 588.4 q -4.1 5.2 -6.3 8.6" stroke="#f5cf2a" stroke-width="1.2" fill="none" stroke-linecap="round"/><path d="M 633.4 615.0 q 2.0 2.5 8.6 4.9" stroke="#f5cf2a" stroke-width="1.2" fill="none" stroke-linecap="round"/><path d="M 659.7 609.1 q 2.6 5.5 4.5 6.2" stroke="#f5cf2a" stroke-width="1.2" fill="none" stroke-linecap="round"/><path d="M 663.3 642.8 q 4.5 -5.2 4.7 -8.3" stroke="#f5cf2a" stroke-width="1.2" fill="none" stroke-linecap="round"/><path d="M 631.3 601.6 q 4.9 -1.8 6.1 -2.2" stroke="#f2b82a" stroke-width="1.2" fill="none" stroke-linecap="round"/><path d="M 631.9 600.0 q 3.1 -4.2 4.3 -7.9" stroke="#f5cf2a" stroke-width="1.2" fill="none" stroke-linecap="round"/><path d="M 641.3 597.0 q -0.4 5.5 -1.0 10.9" stroke="#3d9a3a" stroke-width="1.2" fill="none" stroke-linecap="round"/><path d="M 631.1 614.3 q 3.7 -3.3 6.3 -5.7" stroke="#f5cf2a" stroke-width="1.2" fill="none" stroke-linecap="round"/><path d="M 656.4 585.1 q -3.8 1.7 -10.5 4.2" stroke="#f2b82a" stroke-width="1.2" fill="none" stroke-linecap="round"/><path d="M 647.2 618.7 q -6.5 -4.8 -8.6 -5.5" stroke="#f5cf2a" stroke-width="1.2" fill="none" stroke-linecap="round"/><path d="M 671.6 596.9 q -2.7 -1.6 -3.4 -5.2" stroke="#f5cf2a" stroke-width="1.2" fill="none" stroke-linecap="round"/><path d="M 666.9 605.4 q -5.9 0.8 -8.6 1.8" stroke="#f5cf2a" stroke-width="1.2" fill="none" stroke-linecap="round"/><path d="M 648.3 623.1 q 6.4 2.8 8.7 7.3" stroke="#f2b82a" stroke-width="1.2" fill="none" stroke-linecap="round"/><path d="M 671.7 583.9 q -5.4 3.7 -7.1 5.0" stroke="#f2b82a" stroke-width="1.2" fill="none" stroke-linecap="round"/><path d="M 679.3 610.2 q -3.1 4.4 -1.2 6.9" stroke="#f5cf2a" stroke-width="1.2" fill="none" stroke-linecap="round"/><path d="M 648.0 590.0 q 3.0 3.7 6.4 9.5" stroke="#3d9a3a" stroke-width="1.2" fill="none" stroke-linecap="round"/><path d="M 674.1 593.8 q -7.1 -1.9 -9.5 0.0" stroke="#3d9a3a" stroke-width="1.2" fill="none" stroke-linecap="round"/><path d="M 666.1 582.6 q -4.4 3.5 -4.2 6.9" stroke="#f5cf2a" stroke-width="1.2" fill="none" stroke-linecap="round"/><path d="M 644.8 615.5 q 5.0 -0.4 7.0 2.1" stroke="#f2b82a" stroke-width="1.2" fill="none" stroke-linecap="round"/><path d="M 658.7 577.5 q 0.7 4.5 5.2 5.0" stroke="#f2b82a" stroke-width="1.2" fill="none" stroke-linecap="round"/><path d="M 672.2 634.5 q 5.2 -4.1 7.5 -5.8" stroke="#f2b82a" stroke-width="1.2" fill="none" stroke-linecap="round"/><path d="M 636.9 595.8 q 4.9 2.7 6.5 2.8" stroke="#f5cf2a" stroke-width="1.2" fill="none" stroke-linecap="round"/><path d="M 659.7 592.9 q 3.5 2.6 9.9 3.6" stroke="#3d9a3a" stroke-width="1.2" fill="none" stroke-linecap="round"/><path d="M 631.4 612.3 q -3.0 -4.9 -2.3 -5.6" stroke="#f5cf2a" stroke-width="1.2" fill="none" stroke-linecap="round"/><path d="M 642.8 603.3 q 4.8 -2.1 8.6 -2.4" stroke="#f5cf2a" stroke-width="1.2" fill="none" stroke-linecap="round"/><path d="M 653.8 599.4 q -4.7 -5.9 -7.4 -8.3" stroke="#3d9a3a" stroke-width="1.2" fill="none" stroke-linecap="round"/><path d="M 624.7 620.0 q -1.6 1.7 0.8 6.0" stroke="#f2b82a" stroke-width="1.2" fill="none" stroke-linecap="round"/><path d="M 653.1 624.8 q -0.4 7.5 2.2 10.8" stroke="#f5cf2a" stroke-width="1.2" fill="none" stroke-linecap="round"/><path d="M 633.0 620.6 q -2.8 -5.3 -2.9 -10.0" stroke="#f5cf2a" stroke-width="1.2" fill="none" stroke-linecap="round"/><path d="M 647.3 594.6 q -3.2 -1.8 -7.8 -5.4" stroke="#3d9a3a" stroke-width="1.2" fill="none" stroke-linecap="round"/><path d="M 672.6 618.7 q 4.6 -1.7 11.2 -4.1" stroke="#f5cf2a" stroke-width="1.2" fill="none" stroke-linecap="round"/><path d="M 670.0 625.5 q 0.3 4.1 -2.9 7.1" stroke="#f5cf2a" stroke-width="1.2" fill="none" stroke-linecap="round"/><path d="M 649.6 589.9 q -4.1 0.3 -9.3 -2.9" stroke="#f5cf2a" stroke-width="1.2" fill="none" stroke-linecap="round"/><path d="M 665.5 590.3 q -2.9 -4.5 -1.6 -7.5" stroke="#f2b82a" stroke-width="1.2" fill="none" stroke-linecap="round"/><path d="M 676.8 623.1 q 5.2 -0.1 7.3 1.0" stroke="#f2b82a" stroke-width="1.2" fill="none" stroke-linecap="round"/><path d="M 654.9 643.6 q 7.1 1.8 11.6 -1.0" stroke="#f5cf2a" stroke-width="1.2" fill="none" stroke-linecap="round"/><path d="M 670.6 578.4 q -5.0 -1.8 -10.0 -0.3" stroke="#f2b82a" stroke-width="1.2" fill="none" stroke-linecap="round"/></g>
<path d="M 721.9 588.9 L 722.6 588.3 L 723.4 587.7 L 724.4 587.0 L 725.7 586.5 L 727.1 586.3 L 728.6 586.5 L 730.2 587.0 L 731.8 587.4 L 733.3 587.8 L 734.6 587.9 L 735.8 587.7 L 737.2 587.2 L 738.6 586.4 L 740.0 585.6 L 741.4 584.9 L 742.8 584.5 L 744.0 584.5 L 745.2 584.7 L 746.1 585.0 L 746.9 585.3" stroke="#3d9a3a" stroke-width="1.6" fill="none" stroke-linecap="round"/><path d="M 721.9 588.9 L 722.7 589.1 L 723.8 589.4 L 725.0 589.5 L 726.3 589.4 L 727.7 589.0 L 729.0 588.2 L 730.3 587.2 L 731.6 586.2 L 732.9 585.4 L 734.2 584.9 L 735.6 584.8 L 737.0 585.1 L 738.5 585.7 L 740.0 586.4 L 741.5 587.1 L 742.8 587.4 L 744.1 587.4 L 745.2 587.2 L 746.2 586.8 L 746.9 586.5" stroke="#f5cf2a" stroke-width="1.9" fill="none" stroke-linecap="round"/><path d="M 721.9 588.9 L 721.7 589.6 L 721.5 590.5 L 721.1 591.5 L 720.6 592.5 L 719.8 593.4 L 718.8 594.2 L 717.6 594.8 L 716.3 595.3 L 714.9 595.7 L 713.7 596.1 L 712.5 596.7 L 711.5 597.5 L 710.6 598.6 L 709.9 600.0 L 709.3 601.5 L 708.6 602.9 L 707.9 604.1 L 707.2 605.0 L 706.4 605.6 L 705.7 605.9" stroke="#3d9a3a" stroke-width="1.6" fill="none" stroke-linecap="round"/><path d="M 721.9 588.9 L 721.2 589.1 L 720.4 589.5 L 719.4 589.9 L 718.5 590.6 L 717.6 591.4 L 717.0 592.5 L 716.5 593.7 L 716.0 595.1 L 715.6 596.4 L 715.1 597.7 L 714.4 598.8 L 713.5 599.8 L 712.2 600.5 L 710.7 601.0 L 709.1 601.3 L 707.6 601.6 L 706.3 602.1 L 705.3 602.7 L 704.5 603.3 L 704.1 603.9" stroke="#f5cf2a" stroke-width="1.9" fill="none" stroke-linecap="round"/><path d="M 720.9 584.9 q -1 -4 1 -6 M 723.4 584.9 q 2 -3 3 -6" stroke="#f5cf2a" stroke-width="1.2" fill="none"/><path d="M 719.4 585.4 l -3 -5" stroke="#3d9a3a" stroke-width="1.4" fill="none"/><circle cx="721.9" cy="588.9" r="4.7" fill="url(#fib)" stroke="#a0581a" stroke-width="1"/>
<path d="M 768.3 583.7 L 769.0 583.1 L 769.8 582.5 L 770.8 581.8 L 772.1 581.3 L 773.5 581.1 L 775.0 581.3 L 776.6 581.8 L 778.2 582.2 L 779.7 582.6 L 781.0 582.7 L 782.2 582.5 L 783.6 582.0 L 785.0 581.2 L 786.4 580.4 L 787.8 579.7 L 789.2 579.3 L 790.4 579.3 L 791.6 579.5 L 792.5 579.8 L 793.3 580.1" stroke="#3d9a3a" stroke-width="1.6" fill="none" stroke-linecap="round"/><path d="M 768.3 583.7 L 769.1 583.9 L 770.2 584.2 L 771.4 584.3 L 772.7 584.2 L 774.1 583.8 L 775.4 583.0 L 776.7 582.0 L 778.0 581.0 L 779.3 580.2 L 780.6 579.7 L 782.0 579.6 L 783.4 579.9 L 784.9 580.5 L 786.4 581.2 L 787.9 581.9 L 789.2 582.2 L 790.5 582.2 L 791.6 582.0 L 792.6 581.6 L 793.3 581.3" stroke="#f5cf2a" stroke-width="1.9" fill="none" stroke-linecap="round"/><path d="M 768.3 583.7 L 768.1 584.4 L 767.9 585.3 L 767.5 586.3 L 767.0 587.3 L 766.2 588.2 L 765.2 589.0 L 764.0 589.6 L 762.7 590.1 L 761.3 590.5 L 760.1 590.9 L 758.9 591.5 L 757.9 592.3 L 757.0 593.4 L 756.3 594.8 L 755.7 596.3 L 755.0 597.7 L 754.3 598.9 L 753.6 599.8 L 752.8 600.4 L 752.1 600.7" stroke="#3d9a3a" stroke-width="1.6" fill="none" stroke-linecap="round"/><path d="M 768.3 583.7 L 767.6 583.9 L 766.8 584.3 L 765.8 584.7 L 764.9 585.4 L 764.0 586.2 L 763.4 587.3 L 762.9 588.5 L 762.4 589.9 L 762.0 591.2 L 761.5 592.5 L 760.8 593.6 L 759.9 594.6 L 758.6 595.3 L 757.1 595.8 L 755.5 596.1 L 754.0 596.4 L 752.7 596.9 L 751.7 597.5 L 750.9 598.1 L 750.5 598.7" stroke="#f5cf2a" stroke-width="1.9" fill="none" stroke-linecap="round"/><path d="M 767.3 579.7 q -1 -4 1 -6 M 769.8 579.7 q 2 -3 3 -6" stroke="#f5cf2a" stroke-width="1.2" fill="none"/><path d="M 765.8 580.2 l -3 -5" stroke="#3d9a3a" stroke-width="1.4" fill="none"/><circle cx="768.3" cy="583.7" r="4.7" fill="url(#fib)" stroke="#a0581a" stroke-width="1"/>
<path d="M 780.6 601.2 L 781.3 600.6 L 782.1 600.0 L 783.1 599.3 L 784.4 598.8 L 785.8 598.6 L 787.3 598.8 L 788.9 599.3 L 790.5 599.7 L 792.0 600.1 L 793.3 600.2 L 794.5 600.0 L 795.9 599.5 L 797.3 598.7 L 798.7 597.9 L 800.1 597.2 L 801.5 596.8 L 802.7 596.8 L 803.9 597.0 L 804.8 597.3 L 805.6 597.6" stroke="#3d9a3a" stroke-width="1.6" fill="none" stroke-linecap="round"/><path d="M 780.6 601.2 L 781.4 601.4 L 782.5 601.7 L 783.7 601.8 L 785.0 601.7 L 786.4 601.3 L 787.7 600.5 L 789.0 599.5 L 790.3 598.5 L 791.6 597.7 L 792.9 597.2 L 794.3 597.1 L 795.7 597.4 L 797.2 598.0 L 798.7 598.7 L 800.2 599.4 L 801.5 599.7 L 802.8 599.7 L 803.9 599.5 L 804.9 599.1 L 805.6 598.8" stroke="#f5cf2a" stroke-width="1.9" fill="none" stroke-linecap="round"/><path d="M 780.6 601.2 L 780.4 601.9 L 780.2 602.8 L 779.8 603.8 L 779.3 604.8 L 778.5 605.7 L 777.5 606.5 L 776.3 607.1 L 775.0 607.6 L 773.6 608.0 L 772.4 608.4 L 771.2 609.0 L 770.2 609.8 L 769.3 610.9 L 768.6 612.3 L 768.0 613.8 L 767.3 615.2 L 766.6 616.4 L 765.9 617.3 L 765.1 617.9 L 764.4 618.2" stroke="#3d9a3a" stroke-width="1.6" fill="none" stroke-linecap="round"/><path d="M 780.6 601.2 L 779.9 601.4 L 779.1 601.8 L 778.1 602.2 L 777.2 602.9 L 776.3 603.7 L 775.7 604.8 L 775.2 606.0 L 774.7 607.4 L 774.3 608.7 L 773.8 610.0 L 773.1 611.1 L 772.2 612.1 L 770.9 612.8 L 769.4 613.3 L 767.8 613.6 L 766.3 613.9 L 765.0 614.4 L 764.0 615.0 L 763.2 615.6 L 762.8 616.2" stroke="#f5cf2a" stroke-width="1.9" fill="none" stroke-linecap="round"/><path d="M 779.6 597.2 q -1 -4 1 -6 M 782.1 597.2 q 2 -3 3 -6" stroke="#f5cf2a" stroke-width="1.2" fill="none"/><path d="M 778.1 597.7 l -3 -5" stroke="#3d9a3a" stroke-width="1.4" fill="none"/><circle cx="780.6" cy="601.2" r="4.7" fill="url(#fib)" stroke="#a0581a" stroke-width="1"/>
<path d="M 730.7 625.7 L 731.4 625.1 L 732.2 624.5 L 733.2 623.8 L 734.5 623.3 L 735.9 623.1 L 737.4 623.3 L 739.0 623.8 L 740.6 624.2 L 742.1 624.6 L 743.4 624.7 L 744.6 624.5 L 746.0 624.0 L 747.4 623.2 L 748.8 622.4 L 750.2 621.7 L 751.6 621.3 L 752.8 621.3 L 754.0 621.5 L 754.9 621.8 L 755.7 622.1" stroke="#3d9a3a" stroke-width="1.6" fill="none" stroke-linecap="round"/><path d="M 730.7 625.7 L 731.5 625.9 L 732.6 626.2 L 733.8 626.3 L 735.1 626.2 L 736.5 625.8 L 737.8 625.0 L 739.1 624.0 L 740.4 623.0 L 741.7 622.2 L 743.0 621.7 L 744.4 621.6 L 745.8 621.9 L 747.3 622.5 L 748.8 623.2 L 750.3 623.9 L 751.6 624.2 L 752.9 624.2 L 754.0 624.0 L 755.0 623.6 L 755.7 623.3" stroke="#f5cf2a" stroke-width="1.9" fill="none" stroke-linecap="round"/><path d="M 730.7 625.7 L 730.5 626.4 L 730.3 627.3 L 729.9 628.3 L 729.4 629.3 L 728.6 630.2 L 727.6 631.0 L 726.4 631.6 L 725.1 632.1 L 723.7 632.5 L 722.5 632.9 L 721.3 633.5 L 720.3 634.3 L 719.4 635.4 L 718.7 636.8 L 718.1 638.3 L 717.4 639.7 L 716.7 640.9 L 716.0 641.8 L 715.2 642.4 L 714.5 642.7" stroke="#3d9a3a" stroke-width="1.6" fill="none" stroke-linecap="round"/><path d="M 730.7 625.7 L 730.0 625.9 L 729.2 626.3 L 728.2 626.7 L 727.3 627.4 L 726.4 628.2 L 725.8 629.3 L 725.3 630.5 L 724.8 631.9 L 724.4 633.2 L 723.9 634.5 L 723.2 635.6 L 722.3 636.6 L 721.0 637.3 L 719.5 637.8 L 717.9 638.1 L 716.4 638.4 L 715.1 638.9 L 714.1 639.5 L 713.3 640.1 L 712.9 640.7" stroke="#f5cf2a" stroke-width="1.9" fill="none" stroke-linecap="round"/><path d="M 729.7 621.7 q -1 -4 1 -6 M 732.2 621.7 q 2 -3 3 -6" stroke="#f5cf2a" stroke-width="1.2" fill="none"/><path d="M 728.2 622.2 l -3 -5" stroke="#3d9a3a" stroke-width="1.4" fill="none"/><circle cx="730.7" cy="625.7" r="4.7" fill="url(#fib)" stroke="#a0581a" stroke-width="1"/>
<path d="M 787.6 635.3 L 788.3 634.7 L 789.1 634.1 L 790.1 633.4 L 791.4 632.9 L 792.8 632.7 L 794.3 632.9 L 795.9 633.4 L 797.5 633.8 L 799.0 634.2 L 800.3 634.3 L 801.5 634.1 L 802.9 633.6 L 804.3 632.8 L 805.7 632.0 L 807.1 631.3 L 808.5 630.9 L 809.7 630.9 L 810.9 631.1 L 811.8 631.4 L 812.6 631.7" stroke="#3d9a3a" stroke-width="1.6" fill="none" stroke-linecap="round"/><path d="M 787.6 635.3 L 788.4 635.5 L 789.5 635.8 L 790.7 635.9 L 792.0 635.8 L 793.4 635.4 L 794.7 634.6 L 796.0 633.6 L 797.3 632.6 L 798.6 631.8 L 799.9 631.3 L 801.3 631.2 L 802.7 631.5 L 804.2 632.1 L 805.7 632.8 L 807.2 633.5 L 808.5 633.8 L 809.8 633.8 L 810.9 633.6 L 811.9 633.2 L 812.6 632.9" stroke="#f5cf2a" stroke-width="1.9" fill="none" stroke-linecap="round"/><path d="M 787.6 635.3 L 787.4 636.0 L 787.2 636.9 L 786.8 637.9 L 786.3 638.9 L 785.5 639.8 L 784.5 640.6 L 783.3 641.2 L 782.0 641.7 L 780.6 642.1 L 779.4 642.5 L 778.2 643.1 L 777.2 643.9 L 776.3 645.0 L 775.6 646.4 L 775.0 647.9 L 774.3 649.3 L 773.6 650.5 L 772.9 651.4 L 772.1 652.0 L 771.4 652.3" stroke="#3d9a3a" stroke-width="1.6" fill="none" stroke-linecap="round"/><path d="M 787.6 635.3 L 786.9 635.5 L 786.1 635.9 L 785.1 636.3 L 784.2 637.0 L 783.3 637.8 L 782.7 638.9 L 782.2 640.1 L 781.7 641.5 L 781.3 642.8 L 780.8 644.1 L 780.1 645.2 L 779.2 646.2 L 777.9 646.9 L 776.4 647.4 L 774.8 647.7 L 773.3 648.0 L 772.0 648.5 L 771.0 649.1 L 770.2 649.7 L 769.8 650.3" stroke="#f5cf2a" stroke-width="1.9" fill="none" stroke-linecap="round"/><path d="M 786.6 631.3 q -1 -4 1 -6 M 789.1 631.3 q 2 -3 3 -6" stroke="#f5cf2a" stroke-width="1.2" fill="none"/><path d="M 785.1 631.8 l -3 -5" stroke="#3d9a3a" stroke-width="1.4" fill="none"/><circle cx="787.6" cy="635.3" r="4.7" fill="url(#fib)" stroke="#a0581a" stroke-width="1"/>
<path d="M 706.1 665.1 L 706.8 664.5 L 707.6 663.9 L 708.6 663.2 L 709.9 662.7 L 711.3 662.5 L 712.8 662.7 L 714.4 663.2 L 716.0 663.6 L 717.5 664.0 L 718.8 664.1 L 720.0 663.9 L 721.4 663.4 L 722.8 662.6 L 724.2 661.8 L 725.6 661.1 L 727.0 660.7 L 728.2 660.7 L 729.4 660.9 L 730.3 661.2 L 731.1 661.5" stroke="#3d9a3a" stroke-width="1.6" fill="none" stroke-linecap="round"/><path d="M 706.1 665.1 L 706.9 665.3 L 708.0 665.6 L 709.2 665.7 L 710.5 665.6 L 711.9 665.2 L 713.2 664.4 L 714.5 663.4 L 715.8 662.4 L 717.1 661.6 L 718.4 661.1 L 719.8 661.0 L 721.2 661.3 L 722.7 661.9 L 724.2 662.6 L 725.7 663.3 L 727.0 663.6 L 728.3 663.6 L 729.4 663.4 L 730.4 663.0 L 731.1 662.7" stroke="#f5cf2a" stroke-width="1.9" fill="none" stroke-linecap="round"/><path d="M 706.1 665.1 L 705.9 665.8 L 705.7 666.7 L 705.3 667.7 L 704.8 668.7 L 704.0 669.6 L 703.0 670.4 L 701.8 671.0 L 700.5 671.5 L 699.1 671.9 L 697.9 672.3 L 696.7 672.9 L 695.7 673.7 L 694.8 674.8 L 694.1 676.2 L 693.5 677.7 L 692.8 679.1 L 692.1 680.3 L 691.4 681.2 L 690.6 681.8 L 689.9 682.1" stroke="#3d9a3a" stroke-width="1.6" fill="none" stroke-linecap="round"/><path d="M 706.1 665.1 L 705.4 665.3 L 704.6 665.7 L 703.6 666.1 L 702.7 666.8 L 701.8 667.6 L 701.2 668.7 L 700.7 669.9 L 700.2 671.3 L 699.8 672.6 L 699.3 673.9 L 698.6 675.0 L 697.7 676.0 L 696.4 676.7 L 694.9 677.2 L 693.3 677.5 L 691.8 677.8 L 690.5 678.3 L 689.5 678.9 L 688.7 679.5 L 688.3 680.1" stroke="#f5cf2a" stroke-width="1.9" fill="none" stroke-linecap="round"/><path d="M 705.1 661.1 q -1 -4 1 -6 M 707.6 661.1 q 2 -3 3 -6" stroke="#f5cf2a" stroke-width="1.2" fill="none"/><path d="M 703.6 661.6 l -3 -5" stroke="#3d9a3a" stroke-width="1.4" fill="none"/><circle cx="706.1" cy="665.1" r="4.7" fill="url(#fib)" stroke="#a0581a" stroke-width="1"/>
<path d="M 782.4 673.9 L 783.1 673.3 L 783.9 672.7 L 784.9 672.0 L 786.2 671.5 L 787.6 671.3 L 789.1 671.5 L 790.7 672.0 L 792.3 672.4 L 793.8 672.8 L 795.1 672.9 L 796.3 672.7 L 797.7 672.2 L 799.1 671.4 L 800.5 670.6 L 801.9 669.9 L 803.3 669.5 L 804.5 669.5 L 805.7 669.7 L 806.6 670.0 L 807.4 670.3" stroke="#3d9a3a" stroke-width="1.6" fill="none" stroke-linecap="round"/><path d="M 782.4 673.9 L 783.2 674.1 L 784.3 674.4 L 785.5 674.5 L 786.8 674.4 L 788.2 674.0 L 789.5 673.2 L 790.8 672.2 L 792.1 671.2 L 793.4 670.4 L 794.7 669.9 L 796.1 669.8 L 797.5 670.1 L 799.0 670.7 L 800.5 671.4 L 802.0 672.1 L 803.3 672.4 L 804.6 672.4 L 805.7 672.2 L 806.7 671.8 L 807.4 671.5" stroke="#f5cf2a" stroke-width="1.9" fill="none" stroke-linecap="round"/><path d="M 782.4 673.9 L 782.2 674.6 L 782.0 675.5 L 781.6 676.5 L 781.1 677.5 L 780.3 678.4 L 779.3 679.2 L 778.1 679.8 L 776.8 680.3 L 775.4 680.7 L 774.2 681.1 L 773.0 681.7 L 772.0 682.5 L 771.1 683.6 L 770.4 685.0 L 769.8 686.5 L 769.1 687.9 L 768.4 689.1 L 767.7 690.0 L 766.9 690.6 L 766.2 690.9" stroke="#3d9a3a" stroke-width="1.6" fill="none" stroke-linecap="round"/><path d="M 782.4 673.9 L 781.7 674.1 L 780.9 674.5 L 779.9 674.9 L 779.0 675.6 L 778.1 676.4 L 777.5 677.5 L 777.0 678.7 L 776.5 680.1 L 776.1 681.4 L 775.6 682.7 L 774.9 683.8 L 774.0 684.8 L 772.7 685.5 L 771.2 686.0 L 769.6 686.3 L 768.1 686.6 L 766.8 687.1 L 765.8 687.7 L 765.0 688.3 L 764.6 688.9" stroke="#f5cf2a" stroke-width="1.9" fill="none" stroke-linecap="round"/><path d="M 781.4 669.9 q -1 -4 1 -6 M 783.9 669.9 q 2 -3 3 -6" stroke="#f5cf2a" stroke-width="1.2" fill="none"/><path d="M 779.9 670.4 l -3 -5" stroke="#3d9a3a" stroke-width="1.4" fill="none"/><circle cx="782.4" cy="673.9" r="4.7" fill="url(#fib)" stroke="#a0581a" stroke-width="1"/>
<path d="M 760.5 689.7 L 761.2 689.1 L 762.0 688.5 L 763.0 687.8 L 764.3 687.3 L 765.7 687.1 L 767.2 687.3 L 768.8 687.8 L 770.4 688.2 L 771.9 688.6 L 773.2 688.7 L 774.4 688.5 L 775.8 688.0 L 777.2 687.2 L 778.6 686.4 L 780.0 685.7 L 781.4 685.3 L 782.6 685.3 L 783.8 685.5 L 784.7 685.8 L 785.5 686.1" stroke="#3d9a3a" stroke-width="1.6" fill="none" stroke-linecap="round"/><path d="M 760.5 689.7 L 761.3 689.9 L 762.4 690.2 L 763.6 690.3 L 764.9 690.2 L 766.3 689.8 L 767.6 689.0 L 768.9 688.0 L 770.2 687.0 L 771.5 686.2 L 772.8 685.7 L 774.2 685.6 L 775.6 685.9 L 777.1 686.5 L 778.6 687.2 L 780.1 687.9 L 781.4 688.2 L 782.7 688.2 L 783.8 688.0 L 784.8 687.6 L 785.5 687.3" stroke="#f5cf2a" stroke-width="1.9" fill="none" stroke-linecap="round"/><path d="M 760.5 689.7 L 760.3 690.4 L 760.1 691.3 L 759.7 692.3 L 759.2 693.3 L 758.4 694.2 L 757.4 695.0 L 756.2 695.6 L 754.9 696.1 L 753.5 696.5 L 752.3 696.9 L 751.1 697.5 L 750.1 698.3 L 749.2 699.4 L 748.5 700.8 L 747.9 702.3 L 747.2 703.7 L 746.5 704.9 L 745.8 705.8 L 745.0 706.4 L 744.3 706.7" stroke="#3d9a3a" stroke-width="1.6" fill="none" stroke-linecap="round"/><path d="M 760.5 689.7 L 759.8 689.9 L 759.0 690.3 L 758.0 690.7 L 757.1 691.4 L 756.2 692.2 L 755.6 693.3 L 755.1 694.5 L 754.6 695.9 L 754.2 697.2 L 753.7 698.5 L 753.0 699.6 L 752.1 700.6 L 750.8 701.3 L 749.3 701.8 L 747.7 702.1 L 746.2 702.4 L 744.9 702.9 L 743.9 703.5 L 743.1 704.1 L 742.7 704.7" stroke="#f5cf2a" stroke-width="1.9" fill="none" stroke-linecap="round"/><path d="M 759.5 685.7 q -1 -4 1 -6 M 762.0 685.7 q 2 -3 3 -6" stroke="#f5cf2a" stroke-width="1.2" fill="none"/><path d="M 758.0 686.2 l -3 -5" stroke="#3d9a3a" stroke-width="1.4" fill="none"/><circle cx="760.5" cy="689.7" r="4.7" fill="url(#fib)" stroke="#a0581a" stroke-width="1"/>
<path d="M 722.2 695.8 L 722.9 695.2 L 723.7 694.6 L 724.7 693.9 L 726.0 693.4 L 727.4 693.2 L 728.9 693.4 L 730.5 693.9 L 732.1 694.3 L 733.6 694.7 L 734.9 694.8 L 736.1 694.6 L 737.5 694.1 L 738.9 693.3 L 740.3 692.5 L 741.7 691.8 L 743.1 691.4 L 744.3 691.4 L 745.5 691.6 L 746.4 691.9 L 747.2 692.2" stroke="#3d9a3a" stroke-width="1.6" fill="none" stroke-linecap="round"/><path d="M 722.2 695.8 L 723.0 696.0 L 724.1 696.3 L 725.3 696.4 L 726.6 696.3 L 728.0 695.9 L 729.3 695.1 L 730.6 694.1 L 731.9 693.1 L 733.2 692.3 L 734.5 691.8 L 735.9 691.7 L 737.3 692.0 L 738.8 692.6 L 740.3 693.3 L 741.8 694.0 L 743.1 694.3 L 744.4 694.3 L 745.5 694.1 L 746.5 693.7 L 747.2 693.4" stroke="#f5cf2a" stroke-width="1.9" fill="none" stroke-linecap="round"/><path d="M 722.2 695.8 L 722.0 696.5 L 721.8 697.4 L 721.4 698.4 L 720.9 699.4 L 720.1 700.3 L 719.1 701.1 L 717.9 701.7 L 716.6 702.2 L 715.2 702.6 L 714.0 703.0 L 712.8 703.6 L 711.8 704.4 L 710.9 705.5 L 710.2 706.9 L 709.6 708.4 L 708.9 709.8 L 708.2 711.0 L 707.5 711.9 L 706.7 712.5 L 706.0 712.8" stroke="#3d9a3a" stroke-width="1.6" fill="none" stroke-linecap="round"/><path d="M 722.2 695.8 L 721.5 696.0 L 720.7 696.4 L 719.7 696.8 L 718.8 697.5 L 717.9 698.3 L 717.3 699.4 L 716.8 700.6 L 716.3 702.0 L 715.9 703.3 L 715.4 704.6 L 714.7 705.7 L 713.8 706.7 L 712.5 707.4 L 711.0 707.9 L 709.4 708.2 L 707.9 708.5 L 706.6 709.0 L 705.6 709.6 L 704.8 710.2 L 704.4 710.8" stroke="#f5cf2a" stroke-width="1.9" fill="none" stroke-linecap="round"/><path d="M 721.2 691.8 q -1 -4 1 -6 M 723.7 691.8 q 2 -3 3 -6" stroke="#f5cf2a" stroke-width="1.2" fill="none"/><path d="M 719.7 692.3 l -3 -5" stroke="#3d9a3a" stroke-width="1.4" fill="none"/><circle cx="722.2" cy="695.8" r="4.7" fill="url(#fib)" stroke="#a0581a" stroke-width="1"/>
<g transform="translate(742.9 607.0) rotate(0.0)"><rect x="-12.0" y="-3.5" width="24.0" height="7.1" rx="3.5" fill="url(#bg)" stroke="#4b5a3a" stroke-width="1.1"/></g>
<g transform="translate(770.1 624.0) rotate(-38.0)"><rect x="-12.0" y="-3.5" width="24.0" height="7.1" rx="3.5" fill="url(#bg)" stroke="#4b5a3a" stroke-width="1.1"/></g>
<g transform="translate(811.3 622.7) rotate(30.0)"><rect x="-12.0" y="-3.5" width="24.0" height="7.1" rx="3.5" fill="url(#bg)" stroke="#4b5a3a" stroke-width="1.1"/></g>
<g transform="translate(704.5 638.0) rotate(-65.0)"><rect x="-12.0" y="-3.5" width="24.0" height="7.1" rx="3.5" fill="url(#bg)" stroke="#4b5a3a" stroke-width="1.1"/></g>
<g transform="translate(750.8 573.1)"><circle r="10.7" fill="#fdf2d6" stroke="#8c7456" stroke-width="1"/><circle r="3.2" fill="#ffffff" opacity="0.8"/><path d="M -4.7 -3.7 Q -7.5 2 -0.5 5.8 M -4.7 -3.7 Q 0 -7.5 4.8 -5" fill="none" stroke="#d06a5a" stroke-width="1.1"/><circle cx="-4.7" cy="-3.7" r="2.6" fill="#e05048"/><circle cx="4.8" cy="-5.0" r="2.6" fill="#e05048"/><circle cx="-0.5" cy="5.8" r="2.6" fill="#e05048"/></g>
<g transform="translate(823.5 607.3)"><circle r="10.7" fill="#fdf2d6" stroke="#8c7456" stroke-width="1"/><circle r="3.2" fill="#ffffff" opacity="0.8"/><path d="M -4.7 -3.7 Q -7.5 2 -0.5 5.8 M -4.7 -3.7 Q 0 -7.5 4.8 -5" fill="none" stroke="#d06a5a" stroke-width="1.1"/><circle cx="-4.7" cy="-3.7" r="2.6" fill="#e05048"/><circle cx="4.8" cy="-5.0" r="2.6" fill="#e05048"/><circle cx="-0.5" cy="5.8" r="2.6" fill="#e05048"/></g>
<g transform="translate(816.5 658.1)"><circle r="10.7" fill="#fdf2d6" stroke="#8c7456" stroke-width="1"/><circle r="3.2" fill="#ffffff" opacity="0.8"/><path d="M -4.7 -3.7 Q -7.5 2 -0.5 5.8 M -4.7 -3.7 Q 0 -7.5 4.8 -5" fill="none" stroke="#d06a5a" stroke-width="1.1"/><circle cx="-4.7" cy="-3.7" r="2.6" fill="#e05048"/><circle cx="4.8" cy="-5.0" r="2.6" fill="#e05048"/><circle cx="-0.5" cy="5.8" r="2.6" fill="#e05048"/></g>
<g transform="translate(677.4 672.8)"><circle r="10.7" fill="#fdf2d6" stroke="#8c7456" stroke-width="1"/><circle r="3.2" fill="#ffffff" opacity="0.8"/><path d="M -4.7 -3.7 Q -7.5 2 -0.5 5.8 M -4.7 -3.7 Q 0 -7.5 4.8 -5" fill="none" stroke="#d06a5a" stroke-width="1.1"/><circle cx="-4.7" cy="-3.7" r="2.6" fill="#e05048"/><circle cx="4.8" cy="-5.0" r="2.6" fill="#e05048"/><circle cx="-0.5" cy="5.8" r="2.6" fill="#e05048"/></g>
<path d="M 731.8 851.6 L 731.8 655 Q 731.8 648.6 736.5 648.6 Q 741.2 648.6 741.2 655 L 741.2 851.6 Z" fill="#cadeec" stroke="#7890a4" stroke-width="0.9"/>
<rect x="733.4" y="652" width="2" height="40" fill="#eef6fb" opacity="0.8"/>
<rect x="733.4" y="654" width="1.8" height="17" rx="0.9" fill="#3a4452"/><rect x="738.4" y="654" width="1.8" height="17" rx="0.9" fill="#3a4452"/>
<path d="M 732.5 701.2 h 8 M 732.5 702.8 h 8 M 732.5 704.4 h 8" stroke="#8898a8" stroke-width="0.5"/>
<path d="M 748.3 667.9 L 748.4 668.7 L 748.5 669.8 L 748.5 671.0 L 748.2 672.3 L 747.6 673.5 L 746.7 674.7 L 745.5 675.8 L 744.3 677.0 L 743.2 678.3 L 742.6 679.6 L 742.3 681.0 L 742.4 682.6 L 742.8 684.2 L 743.2 685.8 L 743.5 687.4 L 743.5 689.0 L 743.1 690.5 L 742.2 691.9 L 741.2 693.4 L 740.1 694.9 L 739.4 696.4 L 739.1 698.1 L 739.4 699.8 L 740.0 701.6 L 740.7 703.4 L 741.2 705.2 L 741.1 706.9 L 740.5 708.6 L 739.5 710.3 L 738.3 711.9 L 737.4 713.6 L 737.0 715.3 L 737.2 717.2 L 737.7 719.2 L 738.3 721.2 L 738.6 723.1 L 738.2 725.0 L 737.3 726.6 L 736.2 728.3 L 735.1 729.9 L 734.3 731.5 L 734.1 733.1 L 734.3 734.8 L 734.9 736.5 L 735.4 738.2 L 735.8 739.9 L 735.8 741.4 L 735.4 742.9 L 734.7 744.4 L 733.7 746.0 L 733.0 747.6 L 732.6 749.3 L 732.7 750.9 L 733.4 752.4 L 734.3 753.9 L 735.3 755.4 L 736.1 756.9 L 736.4 758.6 L 736.3 760.3 L 735.6 762.0 L 734.6 763.7 L 733.6 765.3 L 733.0 767.0 L 732.9 768.8 L 733.3 770.7 L 734.0 772.6 L 734.5 774.5 L 734.6 776.4 L 734.1 778.1 L 733.3 780.0 L 732.4 782.0 L 731.9 784.1 L 732.2 786.2 L 733.2 788.2 L 734.7 790.1 L 735.9 792.0 L 736.4 794.0 L 736.1 796.1 L 735.5 798.2 L 735.0 800.2 L 734.9 802.0 L 735.4 803.7 L 736.3 805.1 L 737.5 806.4 L 738.6 807.6 L 739.5 808.9 L 740.1 810.4 L 740.2 811.9 L 739.8 813.5 L 739.1 815.0 L 738.2 816.4 L 737.4 817.8 L 736.9 819.1 L 736.7 820.6 L 736.8 822.3 L 737.1 824.1 L 737.3 825.8 L 737.3 827.4 L 736.8 828.9 L 736.0 830.3 L 734.8 831.6 L 733.5 833.1 L 732.4 834.6 L 731.8 836.3 L 731.7 838.2 L 732.1 840.0 L 732.4 841.7 L 732.7 843.3 L 732.6 844.5 L 732.4 845.4" stroke="#3d9a3a" stroke-width="1.6" fill="none" stroke-linecap="round"/><path d="M 748.3 667.9 L 747.7 668.5 L 746.9 669.2 L 746.1 670.1 L 745.4 671.2 L 745.0 672.5 L 745.0 674.1 L 745.1 675.7 L 745.4 677.4 L 745.6 679.0 L 745.4 680.4 L 745.0 681.7 L 744.2 683.0 L 743.2 684.3 L 742.1 685.6 L 741.2 687.0 L 740.6 688.4 L 740.5 690.0 L 740.8 691.7 L 741.3 693.4 L 741.9 695.1 L 742.2 696.8 L 742.0 698.4 L 741.4 700.0 L 740.4 701.6 L 739.3 703.2 L 738.5 704.9 L 738.2 706.6 L 738.4 708.4 L 739.0 710.2 L 739.7 712.1 L 740.1 714.0 L 739.9 715.8 L 739.1 717.6 L 737.9 719.2 L 736.7 720.9 L 735.8 722.6 L 735.5 724.5 L 735.8 726.4 L 736.4 728.3 L 736.9 730.1 L 737.2 731.9 L 736.9 733.5 L 736.1 735.1 L 735.1 736.6 L 734.1 738.0 L 733.2 739.5 L 732.9 741.1 L 733.0 742.7 L 733.5 744.4 L 734.3 746.0 L 735.0 747.6 L 735.5 749.1 L 735.6 750.6 L 735.3 752.2 L 734.7 753.9 L 734.1 755.5 L 733.6 757.2 L 733.4 758.8 L 733.8 760.3 L 734.4 762.0 L 735.2 763.7 L 735.8 765.6 L 735.9 767.4 L 735.4 769.2 L 734.4 770.8 L 733.2 772.5 L 732.1 774.2 L 731.6 776.1 L 731.9 778.1 L 732.7 780.0 L 733.8 781.9 L 734.7 783.8 L 734.9 785.8 L 734.4 788.0 L 733.7 790.3 L 733.3 792.5 L 733.5 794.6 L 734.5 796.4 L 735.8 798.2 L 737.0 799.8 L 737.8 801.4 L 738.1 803.0 L 737.9 804.6 L 737.6 806.3 L 737.2 808.0 L 737.1 809.5 L 737.1 810.9 L 737.5 812.2 L 738.2 813.6 L 738.9 815.0 L 739.6 816.6 L 739.9 818.2 L 739.8 819.9 L 739.1 821.4 L 738.0 822.7 L 736.8 823.9 L 735.5 825.2 L 734.6 826.6 L 734.0 828.1 L 734.0 829.7 L 734.3 831.5 L 734.7 833.4 L 734.9 835.3 L 734.6 837.1 L 733.8 838.7 L 732.6 840.1 L 731.4 841.5 L 730.4 842.7 L 729.8 843.7 L 729.6 844.6" stroke="#f5cf2a" stroke-width="1.9" fill="none" stroke-linecap="round"/>
<path d="M 745.0 686.0 L 745.3 686.9 L 745.6 688.1 L 745.7 689.5 L 745.6 691.0 L 744.9 692.5 L 743.9 694.0 L 742.7 695.4 L 741.6 696.8 L 741.0 698.2 L 740.7 699.6 L 740.7 700.9 L 740.8 702.4 L 740.9 703.9 L 740.9 705.3 L 740.7 706.7 L 740.2 707.9 L 739.5 708.9 L 738.6 709.9 L 737.6 710.8 L 736.5 711.9 L 735.6 713.0 L 735.0 714.2 L 734.6 715.4 L 734.6 716.8 L 734.9 718.2 L 735.3 719.6 L 735.9 721.0 L 736.3 722.3 L 736.5 723.7 L 736.4 725.0 L 736.1 726.3 L 735.5 727.8 L 735.0 729.4 L 734.6 731.1 L 734.6 732.7 L 735.0 734.2 L 735.8 735.6 L 736.8 737.0 L 737.7 738.5 L 738.3 740.0 L 738.4 741.7 L 737.9 743.3 L 736.9 744.7 L 735.7 746.0 L 734.5 747.2 L 733.6 748.6 L 733.1 750.2 L 733.1 751.8 L 733.6 753.5 L 734.4 755.0 L 735.2 756.3 L 735.8 757.6 L 736.3 758.9 L 736.4 760.4 L 736.3 762.1 L 736.0 763.8 L 735.9 765.5 L 736.0 767.0 L 736.5 768.5 L 737.3 770.0 L 738.3 771.8 L 739.1 773.8 L 739.2 775.9 L 738.5 778.0 L 737.2 779.9 L 735.8 781.9 L 735.0 783.9 L 735.0 786.0 L 735.7 788.1 L 736.6 790.0 L 737.4 791.8 L 737.6 793.6 L 737.3 795.5 L 736.7 797.4 L 736.0 799.4 L 735.8 801.2 L 736.0 802.8 L 736.6 804.1 L 737.3 805.2 L 737.9 806.0" stroke="#3d9a3a" stroke-width="1.6" fill="none" stroke-linecap="round"/><path d="M 745.0 686.0 L 744.4 686.8 L 743.7 687.8 L 743.0 689.0 L 742.7 690.4 L 742.7 692.0 L 743.1 693.8 L 743.6 695.6 L 743.9 697.4 L 743.8 699.0 L 743.3 700.4 L 742.5 701.6 L 741.4 702.6 L 740.2 703.6 L 739.1 704.5 L 738.2 705.5 L 737.5 706.6 L 737.2 707.9 L 737.1 709.3 L 737.2 710.7 L 737.5 712.1 L 737.7 713.5 L 737.7 714.8 L 737.5 716.1 L 737.0 717.3 L 736.3 718.4 L 735.4 719.6 L 734.6 720.9 L 733.9 722.2 L 733.5 723.6 L 733.6 725.0 L 734.1 726.5 L 734.9 727.9 L 735.9 729.3 L 736.9 730.6 L 737.5 732.1 L 737.7 733.6 L 737.5 735.3 L 736.9 737.0 L 736.3 738.5 L 735.7 740.0 L 735.4 741.3 L 735.4 742.7 L 735.6 744.3 L 736.0 746.0 L 736.2 747.8 L 736.3 749.4 L 736.0 750.8 L 735.3 752.2 L 734.5 753.5 L 733.6 755.0 L 733.1 756.6 L 733.0 758.3 L 733.5 759.8 L 734.4 761.1 L 735.6 762.3 L 737.0 763.5 L 738.1 764.8 L 738.9 766.3 L 739.1 768.1 L 738.7 770.0 L 737.8 771.8 L 736.8 773.7 L 736.2 775.6 L 736.4 777.7 L 737.1 779.9 L 737.8 782.2 L 738.0 784.3 L 737.4 786.3 L 736.4 788.2 L 735.4 790.0 L 734.7 791.9 L 734.7 793.8 L 735.4 795.7 L 736.6 797.5 L 737.7 799.1 L 738.5 800.7 L 738.9 802.3 L 738.8 803.7 L 738.5 805.0 L 738.1 806.0" stroke="#f5cf2a" stroke-width="1.9" fill="none" stroke-linecap="round"/>
<g transform="translate(736.9 719.5) rotate(90.0)"><rect x="-12.0" y="-3.5" width="24.0" height="7.1" rx="3.5" fill="url(#bg)" stroke="#4b5a3a" stroke-width="1.1"/></g>
<g transform="translate(736.5 771.0) rotate(90.0)"><rect x="-12.0" y="-3.5" width="24.0" height="7.1" rx="3.5" fill="url(#bg)" stroke="#4b5a3a" stroke-width="1.1"/></g>
<path d="M 748.3 667.9 L 748.4 667.5 L 748.5 666.9 L 748.6 666.2 L 748.8 665.5 L 749.0 664.8 L 749.4 664.1 L 749.8 663.5 L 750.3 662.9 L 750.9 662.5 L 751.5 662.1 L 752.1 661.8 L 752.8 661.6 L 753.4 661.5 L 754.1 661.4 L 754.7 661.3 L 755.3 661.2 L 755.8 661.2 L 756.3 661.1 L 756.7 661.0 L 757.0 660.9" stroke="#3d9a3a" stroke-width="1.6" fill="none" stroke-linecap="round"/><path d="M 748.3 667.9 L 748.7 667.7 L 749.2 667.5 L 749.8 667.2 L 750.5 666.8 L 751.1 666.4 L 751.6 665.9 L 752.1 665.4 L 752.5 664.8 L 752.9 664.2 L 753.1 663.7 L 753.3 663.2 L 753.6 662.6 L 753.8 662.0 L 754.1 661.4 L 754.4 660.9 L 754.7 660.3 L 755.0 659.9 L 755.2 659.5 L 755.4 659.2 L 755.6 658.9" stroke="#f5cf2a" stroke-width="1.9" fill="none" stroke-linecap="round"/><path d="M 748.3 667.9 L 748.3 668.2 L 748.2 668.6 L 748.2 669.1 L 748.1 669.7 L 748.0 670.2 L 747.8 670.8 L 747.5 671.4 L 747.2 672.0 L 746.8 672.5 L 746.3 672.9 L 745.8 673.3 L 745.1 673.7 L 744.4 673.9 L 743.5 674.1 L 742.7 674.3 L 741.9 674.4 L 741.1 674.5 L 740.5 674.7 L 740.0 674.8 L 739.6 674.9" stroke="#3d9a3a" stroke-width="1.6" fill="none" stroke-linecap="round"/><path d="M 748.3 667.9 L 748.0 668.0 L 747.6 668.2 L 747.2 668.5 L 746.7 668.8 L 746.3 669.1 L 745.8 669.4 L 745.3 669.7 L 744.9 670.1 L 744.6 670.5 L 744.3 670.9 L 743.9 671.3 L 743.6 671.9 L 743.2 672.5 L 742.9 673.3 L 742.5 674.0 L 742.2 674.8 L 741.8 675.5 L 741.5 676.0 L 741.3 676.5 L 741.0 676.9" stroke="#f5cf2a" stroke-width="1.9" fill="none" stroke-linecap="round"/><path d="M 747.3 663.9 q -1 -4 1 -6 M 749.8 663.9 q 2 -3 3 -6" stroke="#f5cf2a" stroke-width="1.2" fill="none"/><path d="M 745.8 664.4 l -3 -5" stroke="#3d9a3a" stroke-width="1.4" fill="none"/><circle cx="748.3" cy="667.9" r="4.7" fill="url(#fib)" stroke="#a0581a" stroke-width="1"/>
<path d="M 745.1 717.3 L 745.2 716.9 L 745.3 716.3 L 745.4 715.6 L 745.6 714.9 L 745.8 714.2 L 746.2 713.5 L 746.6 712.9 L 747.1 712.3 L 747.7 711.9 L 748.3 711.5 L 748.9 711.2 L 749.6 711.0 L 750.2 710.9 L 750.9 710.8 L 751.5 710.7 L 752.1 710.6 L 752.6 710.6 L 753.1 710.5 L 753.5 710.4 L 753.8 710.3" stroke="#3d9a3a" stroke-width="1.6" fill="none" stroke-linecap="round"/><path d="M 745.1 717.3 L 745.5 717.1 L 746.0 716.9 L 746.6 716.6 L 747.3 716.2 L 747.9 715.8 L 748.4 715.3 L 748.9 714.8 L 749.3 714.2 L 749.7 713.6 L 749.9 713.1 L 750.1 712.6 L 750.4 712.0 L 750.6 711.4 L 750.9 710.8 L 751.2 710.3 L 751.5 709.7 L 751.8 709.3 L 752.0 708.9 L 752.2 708.6 L 752.4 708.3" stroke="#f5cf2a" stroke-width="1.9" fill="none" stroke-linecap="round"/><path d="M 745.1 717.3 L 745.1 717.6 L 745.0 718.0 L 745.0 718.5 L 744.9 719.1 L 744.8 719.6 L 744.6 720.2 L 744.3 720.8 L 744.0 721.4 L 743.6 721.9 L 743.1 722.3 L 742.6 722.7 L 741.9 723.1 L 741.2 723.3 L 740.3 723.5 L 739.5 723.7 L 738.7 723.8 L 737.9 723.9 L 737.3 724.1 L 736.8 724.2 L 736.4 724.3" stroke="#3d9a3a" stroke-width="1.6" fill="none" stroke-linecap="round"/><path d="M 745.1 717.3 L 744.8 717.4 L 744.4 717.6 L 744.0 717.9 L 743.5 718.2 L 743.1 718.5 L 742.6 718.8 L 742.1 719.1 L 741.7 719.5 L 741.4 719.9 L 741.1 720.3 L 740.7 720.7 L 740.4 721.3 L 740.0 721.9 L 739.7 722.7 L 739.3 723.4 L 739.0 724.2 L 738.6 724.9 L 738.3 725.4 L 738.1 725.9 L 737.8 726.3" stroke="#f5cf2a" stroke-width="1.9" fill="none" stroke-linecap="round"/><path d="M 744.1 713.3 q -1 -4 1 -6 M 746.6 713.3 q 2 -3 3 -6" stroke="#f5cf2a" stroke-width="1.2" fill="none"/><path d="M 742.6 713.8 l -3 -5" stroke="#3d9a3a" stroke-width="1.4" fill="none"/><circle cx="745.1" cy="717.3" r="4.7" fill="url(#fib)" stroke="#a0581a" stroke-width="1"/>
<path d="M 733.9 745.9 L 734.0 745.5 L 734.1 744.9 L 734.2 744.2 L 734.4 743.5 L 734.6 742.8 L 735.0 742.1 L 735.4 741.5 L 735.9 740.9 L 736.5 740.5 L 737.1 740.1 L 737.7 739.8 L 738.4 739.6 L 739.0 739.5 L 739.7 739.4 L 740.3 739.3 L 740.9 739.2 L 741.4 739.2 L 741.9 739.1 L 742.3 739.0 L 742.6 738.9" stroke="#3d9a3a" stroke-width="1.6" fill="none" stroke-linecap="round"/><path d="M 733.9 745.9 L 734.3 745.7 L 734.8 745.5 L 735.4 745.2 L 736.1 744.8 L 736.7 744.4 L 737.2 743.9 L 737.7 743.4 L 738.1 742.8 L 738.5 742.2 L 738.7 741.7 L 738.9 741.2 L 739.2 740.6 L 739.4 740.0 L 739.7 739.4 L 740.0 738.9 L 740.3 738.3 L 740.6 737.9 L 740.8 737.5 L 741.0 737.2 L 741.2 736.9" stroke="#f5cf2a" stroke-width="1.9" fill="none" stroke-linecap="round"/><path d="M 733.9 745.9 L 733.9 746.2 L 733.8 746.6 L 733.8 747.1 L 733.7 747.7 L 733.6 748.2 L 733.4 748.8 L 733.1 749.4 L 732.8 750.0 L 732.4 750.5 L 731.9 750.9 L 731.4 751.3 L 730.7 751.7 L 730.0 751.9 L 729.1 752.1 L 728.3 752.3 L 727.5 752.4 L 726.7 752.5 L 726.1 752.7 L 725.6 752.8 L 725.2 752.9" stroke="#3d9a3a" stroke-width="1.6" fill="none" stroke-linecap="round"/><path d="M 733.9 745.9 L 733.6 746.0 L 733.2 746.2 L 732.8 746.5 L 732.3 746.8 L 731.9 747.1 L 731.4 747.4 L 730.9 747.7 L 730.5 748.1 L 730.2 748.5 L 729.9 748.9 L 729.5 749.3 L 729.2 749.9 L 728.8 750.5 L 728.5 751.3 L 728.1 752.0 L 727.8 752.8 L 727.4 753.5 L 727.1 754.0 L 726.9 754.5 L 726.6 754.9" stroke="#f5cf2a" stroke-width="1.9" fill="none" stroke-linecap="round"/><path d="M 732.9 741.9 q -1 -4 1 -6 M 735.4 741.9 q 2 -3 3 -6" stroke="#f5cf2a" stroke-width="1.2" fill="none"/><path d="M 731.4 742.4 l -3 -5" stroke="#3d9a3a" stroke-width="1.4" fill="none"/><circle cx="733.9" cy="745.9" r="4.7" fill="url(#fib)" stroke="#a0581a" stroke-width="1"/>
<path d="M 734.4 791.4 L 734.5 791.0 L 734.6 790.4 L 734.7 789.7 L 734.9 789.0 L 735.1 788.3 L 735.5 787.6 L 735.9 787.0 L 736.4 786.4 L 737.0 786.0 L 737.6 785.6 L 738.2 785.3 L 738.9 785.1 L 739.5 785.0 L 740.2 784.9 L 740.8 784.8 L 741.4 784.7 L 741.9 784.7 L 742.4 784.6 L 742.8 784.5 L 743.1 784.4" stroke="#3d9a3a" stroke-width="1.6" fill="none" stroke-linecap="round"/><path d="M 734.4 791.4 L 734.8 791.2 L 735.3 791.0 L 735.9 790.7 L 736.6 790.3 L 737.2 789.9 L 737.7 789.4 L 738.2 788.9 L 738.6 788.3 L 739.0 787.7 L 739.2 787.2 L 739.4 786.7 L 739.7 786.1 L 739.9 785.5 L 740.2 784.9 L 740.5 784.4 L 740.8 783.8 L 741.1 783.4 L 741.3 783.0 L 741.5 782.7 L 741.7 782.4" stroke="#f5cf2a" stroke-width="1.9" fill="none" stroke-linecap="round"/><path d="M 734.4 791.4 L 734.4 791.7 L 734.3 792.1 L 734.3 792.6 L 734.2 793.2 L 734.1 793.7 L 733.9 794.3 L 733.6 794.9 L 733.3 795.5 L 732.9 796.0 L 732.4 796.4 L 731.9 796.8 L 731.2 797.2 L 730.5 797.4 L 729.6 797.6 L 728.8 797.8 L 728.0 797.9 L 727.2 798.0 L 726.6 798.2 L 726.1 798.3 L 725.7 798.4" stroke="#3d9a3a" stroke-width="1.6" fill="none" stroke-linecap="round"/><path d="M 734.4 791.4 L 734.1 791.5 L 733.7 791.7 L 733.3 792.0 L 732.8 792.3 L 732.4 792.6 L 731.9 792.9 L 731.4 793.2 L 731.0 793.6 L 730.7 794.0 L 730.4 794.4 L 730.0 794.8 L 729.7 795.4 L 729.3 796.0 L 729.0 796.8 L 728.6 797.5 L 728.3 798.3 L 727.9 799.0 L 727.6 799.5 L 727.4 800.0 L 727.1 800.4" stroke="#f5cf2a" stroke-width="1.9" fill="none" stroke-linecap="round"/><path d="M 733.4 787.4 q -1 -4 1 -6 M 735.9 787.4 q 2 -3 3 -6" stroke="#f5cf2a" stroke-width="1.2" fill="none"/><path d="M 731.9 787.9 l -3 -5" stroke="#3d9a3a" stroke-width="1.4" fill="none"/><circle cx="734.4" cy="791.4" r="4.7" fill="url(#fib)" stroke="#a0581a" stroke-width="1"/>
<path d="M 737.6 816.1 L 737.7 815.7 L 737.8 815.1 L 737.9 814.4 L 738.1 813.7 L 738.3 813.0 L 738.7 812.3 L 739.1 811.7 L 739.6 811.1 L 740.2 810.7 L 740.8 810.3 L 741.4 810.0 L 742.1 809.8 L 742.7 809.7 L 743.4 809.6 L 744.0 809.5 L 744.6 809.4 L 745.1 809.4 L 745.6 809.3 L 746.0 809.2 L 746.3 809.1" stroke="#3d9a3a" stroke-width="1.6" fill="none" stroke-linecap="round"/><path d="M 737.6 816.1 L 738.0 815.9 L 738.5 815.7 L 739.1 815.4 L 739.8 815.0 L 740.4 814.6 L 740.9 814.1 L 741.4 813.6 L 741.8 813.0 L 742.2 812.4 L 742.4 811.9 L 742.6 811.4 L 742.9 810.8 L 743.1 810.2 L 743.4 809.6 L 743.7 809.1 L 744.0 808.5 L 744.3 808.1 L 744.5 807.7 L 744.7 807.4 L 744.9 807.1" stroke="#f5cf2a" stroke-width="1.9" fill="none" stroke-linecap="round"/><path d="M 737.6 816.1 L 737.6 816.4 L 737.5 816.8 L 737.5 817.3 L 737.4 817.9 L 737.3 818.4 L 737.1 819.0 L 736.8 819.6 L 736.5 820.2 L 736.1 820.7 L 735.6 821.1 L 735.1 821.5 L 734.4 821.9 L 733.7 822.1 L 732.8 822.3 L 732.0 822.5 L 731.2 822.6 L 730.4 822.7 L 729.8 822.9 L 729.3 823.0 L 728.9 823.1" stroke="#3d9a3a" stroke-width="1.6" fill="none" stroke-linecap="round"/><path d="M 737.6 816.1 L 737.3 816.2 L 736.9 816.4 L 736.5 816.7 L 736.0 817.0 L 735.6 817.3 L 735.1 817.6 L 734.6 817.9 L 734.2 818.3 L 733.9 818.7 L 733.6 819.1 L 733.2 819.5 L 732.9 820.1 L 732.5 820.7 L 732.2 821.5 L 731.8 822.2 L 731.5 823.0 L 731.1 823.7 L 730.8 824.2 L 730.6 824.7 L 730.3 825.1" stroke="#f5cf2a" stroke-width="1.9" fill="none" stroke-linecap="round"/><path d="M 736.6 812.1 q -1 -4 1 -6 M 739.1 812.1 q 2 -3 3 -6" stroke="#f5cf2a" stroke-width="1.2" fill="none"/><path d="M 735.1 812.6 l -3 -5" stroke="#3d9a3a" stroke-width="1.4" fill="none"/><circle cx="737.6" cy="816.1" r="4.7" fill="url(#fib)" stroke="#a0581a" stroke-width="1"/>
<g transform="translate(229.4 835.0) rotate(90.0)"><rect x="-11.0" y="-3.8" width="22.0" height="7.6" rx="3.8" fill="url(#bg)" stroke="#4b5a3a" stroke-width="1.1"/></g>
<g transform="translate(737.0 870.6) rotate(90.0)"><rect x="-11.0" y="-3.8" width="22.0" height="7.6" rx="3.8" fill="url(#bg)" stroke="#4b5a3a" stroke-width="1.1"/></g>
<rect x="532.4" y="95.7" width="97.4" height="28.0" fill="url(#box)" stroke="#8a899e" stroke-width="1.3"/><text x="539.7" y="114.6" font-size="15.4" fill="#2c2c38" font-weight="normal" text-anchor="start" stroke="#2c2c38" stroke-width="0.10" textLength="84.2" lengthAdjust="spacingAndGlyphs">Bacteraemia</text>
<circle cx="517.3" cy="110.1" r="10.6" fill="#ffffff" stroke="#6a6a6a" stroke-width="1.2"/><text x="517.3" y="115.0" font-size="13.8" fill="#1a1a1a" font-weight="bold" text-anchor="middle" stroke="#1a1a1a" stroke-width="0.20">11</text>
<rect x="532.4" y="134.6" width="118.4" height="62.9" fill="url(#box)" stroke="#8a899e" stroke-width="1.3"/><text x="539.7" y="153.5" font-size="15.4" fill="#2c2c38" font-weight="normal" text-anchor="start" stroke="#2c2c38" stroke-width="0.10" textLength="73.5" lengthAdjust="spacingAndGlyphs">Host tissue</text><text x="539.7" y="170.7" font-size="15.4" fill="#2c2c38" font-weight="normal" text-anchor="start" stroke="#2c2c38" stroke-width="0.10" textLength="74.0" lengthAdjust="spacingAndGlyphs">damage by</text><text x="539.7" y="187.9" font-size="15.4" fill="#2c2c38" font-weight="normal" text-anchor="start" stroke="#2c2c38" stroke-width="0.10" textLength="103.9" lengthAdjust="spacingAndGlyphs">bacterial toxins</text>
<circle cx="516.2" cy="166.9" r="10.6" fill="#ffffff" stroke="#6a6a6a" stroke-width="1.2"/><text x="516.2" y="171.8" font-size="13.8" fill="#1a1a1a" font-weight="bold" text-anchor="middle" stroke="#1a1a1a" stroke-width="0.20">10</text>
<rect x="532.4" y="208.2" width="118.4" height="45.1" fill="url(#box)" stroke="#8a899e" stroke-width="1.3"/><text x="539.7" y="227.1" font-size="15.4" fill="#2c2c38" font-weight="normal" text-anchor="start" stroke="#2c2c38" stroke-width="0.10" textLength="103.6" lengthAdjust="spacingAndGlyphs">Colonization of</text><text x="539.7" y="244.3" font-size="15.4" fill="#2c2c38" font-weight="normal" text-anchor="start" stroke="#2c2c38" stroke-width="0.10" textLength="76.3" lengthAdjust="spacingAndGlyphs">the kidneys</text>
<circle cx="516.2" cy="229.5" r="10.6" fill="#ffffff" stroke="#6a6a6a" stroke-width="1.2"/><text x="516.2" y="234.4" font-size="13.8" fill="#1a1a1a" font-weight="bold" text-anchor="middle" stroke="#1a1a1a" stroke-width="0.20">9</text>
<rect x="414.0" y="447.1" width="179.8" height="26.2" fill="url(#box)" stroke="#8a899e" stroke-width="1.3"/><text x="421.3" y="466.0" font-size="15.4" fill="#2c2c38" font-weight="normal" text-anchor="start" stroke="#2c2c38" stroke-width="0.10" textLength="166.6" lengthAdjust="spacingAndGlyphs">Ascension to the kidneys</text>
<circle cx="399.2" cy="461.0" r="10.6" fill="#ffffff" stroke="#6a6a6a" stroke-width="1.2"/><text x="399.2" y="465.9" font-size="13.8" fill="#1a1a1a" font-weight="bold" text-anchor="middle" stroke="#1a1a1a" stroke-width="0.20">8</text>
<rect x="414.0" y="483.7" width="137.6" height="62.4" fill="url(#box)" stroke="#8a899e" stroke-width="1.3"/><text x="421.3" y="502.6" font-size="15.4" fill="#2c2c38" font-weight="normal" text-anchor="start" stroke="#2c2c38" stroke-width="0.10" textLength="121.8" lengthAdjust="spacingAndGlyphs">Epithelial damage</text><text x="421.3" y="519.8" font-size="15.4" fill="#2c2c38" font-weight="normal" text-anchor="start" stroke="#2c2c38" stroke-width="0.10" textLength="124.0" lengthAdjust="spacingAndGlyphs">by bacterial toxins</text><text x="421.3" y="537.0" font-size="15.4" fill="#2c2c38" font-weight="normal" text-anchor="start" stroke="#2c2c38" stroke-width="0.10" textLength="95.1" lengthAdjust="spacingAndGlyphs">and proteases</text>
<circle cx="399.2" cy="517.4" r="10.6" fill="#ffffff" stroke="#6a6a6a" stroke-width="1.2"/><text x="399.2" y="522.3" font-size="13.8" fill="#1a1a1a" font-weight="bold" text-anchor="middle" stroke="#1a1a1a" stroke-width="0.20">7</text>
<rect x="414.0" y="557.8" width="134.7" height="26.6" fill="url(#box)" stroke="#8a899e" stroke-width="1.3"/><text x="421.3" y="576.7" font-size="15.4" fill="#2c2c38" font-weight="normal" text-anchor="start" stroke="#2c2c38" stroke-width="0.10" textLength="116.9" lengthAdjust="spacingAndGlyphs">Biofilm formation</text>
<circle cx="397.7" cy="571.4" r="10.6" fill="#ffffff" stroke="#6a6a6a" stroke-width="1.2"/><text x="397.7" y="576.3" font-size="13.8" fill="#1a1a1a" font-weight="bold" text-anchor="middle" stroke="#1a1a1a" stroke-width="0.20">6</text>
<rect x="414.0" y="597.7" width="172.0" height="61.5" fill="url(#box)" stroke="#8a899e" stroke-width="1.3"/><text x="421.3" y="616.6" font-size="15.4" fill="#2c2c38" font-weight="normal" text-anchor="start" stroke="#2c2c38" stroke-width="0.10" textLength="157.6" lengthAdjust="spacingAndGlyphs">Bacterial multiplication</text><text x="421.3" y="633.8" font-size="15.4" fill="#2c2c38" font-weight="normal" text-anchor="start" stroke="#2c2c38" stroke-width="0.10" textLength="133.6" lengthAdjust="spacingAndGlyphs">and immune system</text><text x="421.3" y="651.0" font-size="15.4" fill="#2c2c38" font-weight="normal" text-anchor="start" stroke="#2c2c38" stroke-width="0.10" textLength="71.9" lengthAdjust="spacingAndGlyphs">subversion</text>
<circle cx="397.7" cy="628.4" r="10.6" fill="#ffffff" stroke="#6a6a6a" stroke-width="1.2"/><text x="397.7" y="633.3" font-size="13.8" fill="#1a1a1a" font-weight="bold" text-anchor="middle" stroke="#1a1a1a" stroke-width="0.20">5</text>
<rect x="414.0" y="671.6" width="161.4" height="26.7" fill="url(#box)" stroke="#8a899e" stroke-width="1.3"/><text x="421.3" y="690.5" font-size="15.4" fill="#2c2c38" font-weight="normal" text-anchor="start" stroke="#2c2c38" stroke-width="0.10" textLength="146.9" lengthAdjust="spacingAndGlyphs">Neutrophil infiltration</text>
<circle cx="397.7" cy="684.7" r="10.6" fill="#ffffff" stroke="#6a6a6a" stroke-width="1.2"/><text x="397.7" y="689.6" font-size="13.8" fill="#1a1a1a" font-weight="bold" text-anchor="middle" stroke="#1a1a1a" stroke-width="0.20">4</text>
<rect x="338.5" y="737.7" width="147.4" height="79.0" fill="url(#box)" stroke="#8a899e" stroke-width="1.3"/><text x="345.8" y="756.6" font-size="15.4" fill="#2c2c38" font-weight="normal" text-anchor="start" stroke="#2c2c38" stroke-width="0.10" textLength="115.5" lengthAdjust="spacingAndGlyphs">Colonization and</text><text x="345.8" y="773.8" font-size="15.4" fill="#2c2c38" font-weight="normal" text-anchor="start" stroke="#2c2c38" stroke-width="0.10" textLength="97.5" lengthAdjust="spacingAndGlyphs">invasion of the</text><text x="345.8" y="791.0" font-size="15.4" fill="#2c2c38" font-weight="normal" text-anchor="start" stroke="#2c2c38" stroke-width="0.10" textLength="121.8" lengthAdjust="spacingAndGlyphs">bladder, mediated</text><text x="345.8" y="808.2" font-size="15.4" fill="#2c2c38" font-weight="normal" text-anchor="start" stroke="#2c2c38" stroke-width="0.10" textLength="131.5" lengthAdjust="spacingAndGlyphs">by pili and adhesins</text>
<rect x="518.2" y="737.6" width="176.2" height="78.8" fill="url(#box)" stroke="#8a899e" stroke-width="1.3"/><text x="525.5" y="756.5" font-size="15.4" fill="#2c2c38" font-weight="normal" text-anchor="start" stroke="#2c2c38" stroke-width="0.10" textLength="154.3" lengthAdjust="spacingAndGlyphs">Inflammatory response</text><text x="525.5" y="773.7" font-size="15.4" fill="#2c2c38" font-weight="normal" text-anchor="start" stroke="#2c2c38" stroke-width="0.10" textLength="122.3" lengthAdjust="spacingAndGlyphs">in the bladder and</text><text x="525.5" y="790.9" font-size="15.4" fill="#2c2c38" font-weight="normal" text-anchor="start" stroke="#2c2c38" stroke-width="0.10" textLength="165.1" lengthAdjust="spacingAndGlyphs">fibrinogen accumulation</text><text x="525.5" y="808.1" font-size="15.4" fill="#2c2c38" font-weight="normal" text-anchor="start" stroke="#2c2c38" stroke-width="0.10" textLength="98.5" lengthAdjust="spacingAndGlyphs">in the catheter</text>
<circle cx="502.0" cy="779.7" r="10.6" fill="#ffffff" stroke="#6a6a6a" stroke-width="1.2"/><text x="502.0" y="784.6" font-size="13.8" fill="#1a1a1a" font-weight="bold" text-anchor="middle" stroke="#1a1a1a" stroke-width="0.20">3</text>
<rect x="413.6" y="862.3" width="210.3" height="43.8" fill="url(#box)" stroke="#8a899e" stroke-width="1.3"/><text x="420.9" y="881.2" font-size="15.4" fill="#2c2c38" font-weight="normal" text-anchor="start" stroke="#2c2c38" stroke-width="0.10" textLength="183.6" lengthAdjust="spacingAndGlyphs">Colonization of the urethra</text><text x="420.9" y="898.4" font-size="15.4" fill="#2c2c38" font-weight="normal" text-anchor="start" stroke="#2c2c38" stroke-width="0.10" textLength="194.4" lengthAdjust="spacingAndGlyphs">and migration to the bladder</text>
<circle cx="397.5" cy="884.2" r="10.6" fill="#ffffff" stroke="#6a6a6a" stroke-width="1.2"/><text x="397.5" y="889.1" font-size="13.8" fill="#1a1a1a" font-weight="bold" text-anchor="middle" stroke="#1a1a1a" stroke-width="0.20">2</text>
<rect x="413.6" y="917.2" width="191.3" height="61.9" fill="url(#box)" stroke="#8a899e" stroke-width="1.3"/><text x="420.9" y="936.1" font-size="15.4" fill="#2c2c38" font-weight="normal" text-anchor="start" stroke="#2c2c38" stroke-width="0.10" textLength="144.8" lengthAdjust="spacingAndGlyphs">Contamination of the</text><text x="420.9" y="953.3" font-size="15.4" fill="#2c2c38" font-weight="normal" text-anchor="start" stroke="#2c2c38" stroke-width="0.10" textLength="157.9" lengthAdjust="spacingAndGlyphs">periurethral area with a</text><text x="420.9" y="970.5" font-size="15.4" fill="#2c2c38" font-weight="normal" text-anchor="start" stroke="#2c2c38" stroke-width="0.10" textLength="175.4" lengthAdjust="spacingAndGlyphs">uropathogen from the gut</text>
<circle cx="397.5" cy="949.9" r="10.6" fill="#ffffff" stroke="#6a6a6a" stroke-width="1.2"/><text x="397.5" y="954.8" font-size="13.8" fill="#1a1a1a" font-weight="bold" text-anchor="middle" stroke="#1a1a1a" stroke-width="0.20">1</text>
<line x1="434.0" y1="733.0" x2="446.2" y2="712.9" stroke="#2f3f4a" stroke-width="2"/><path d="M 450.0 706.8 L 448.9 716.7 L 441.7 712.3 Z" fill="#2f3f4a"/>
<line x1="575.3" y1="733.0" x2="566.6" y2="713.4" stroke="#2f3f4a" stroke-width="2"/><path d="M 563.7 706.8 L 571.2 713.3 L 563.5 716.7 Z" fill="#2f3f4a"/>
<line x1="450.8" y1="853.4" x2="440.1" y2="831.5" stroke="#2f3f4a" stroke-width="2"/><path d="M 437.0 825.0 L 444.7 831.3 L 437.2 834.9 Z" fill="#2f3f4a"/>
<line x1="561.9" y1="853.4" x2="572.8" y2="831.4" stroke="#2f3f4a" stroke-width="2"/><path d="M 576.0 825.0 L 575.8 834.9 L 568.2 831.2 Z" fill="#2f3f4a"/>
<text x="123.0" y="13.5" font-size="15.2" fill="#353538" font-weight="normal" text-anchor="start" stroke="#353538" stroke-width="0.10" textLength="112.7" lengthAdjust="spacingAndGlyphs">Abdominal aorta</text>
<line x1="237.6" y1="8" x2="237.6" y2="37" stroke="#555" stroke-width="0.9"/>
<text x="274.4" y="44.0" font-size="15.2" fill="#353538" font-weight="normal" text-anchor="start" stroke="#353538" stroke-width="0.10" textLength="118.9" lengthAdjust="spacingAndGlyphs">Inferior vena cava</text>
<line x1="272.2" y1="34" x2="272.2" y2="63" stroke="#666" stroke-width="0.9"/>
<text x="163.9" y="99.4" font-size="15.2" fill="#353538" font-weight="normal" text-anchor="start" stroke="#353538" stroke-width="0.10" textLength="37.4" lengthAdjust="spacingAndGlyphs">Renal</text>
<text x="163.4" y="116.3" font-size="15.2" fill="#353538" font-weight="normal" text-anchor="start" stroke="#353538" stroke-width="0.10" textLength="40.7" lengthAdjust="spacingAndGlyphs">artery</text>
<text x="50.7" y="272.0" font-size="15.2" fill="#353538" font-weight="normal" text-anchor="start" stroke="#353538" stroke-width="0.10" textLength="47.1" lengthAdjust="spacingAndGlyphs">Kidney</text>
<text x="45.6" y="393.6" font-size="15.2" fill="#353538" font-weight="normal" text-anchor="start" stroke="#353538" stroke-width="0.10" textLength="43.4" lengthAdjust="spacingAndGlyphs">Ureter</text>
<text x="203.9" y="546.9" font-size="15.2" fill="#353538" font-weight="normal" text-anchor="start" stroke="#353538" stroke-width="0.10" textLength="52.2" lengthAdjust="spacingAndGlyphs">Bladder</text>
<text x="287.1" y="203.9" font-size="15.2" fill="#353538" font-weight="normal" text-anchor="start" stroke="#353538" stroke-width="0.10" textLength="37.1" lengthAdjust="spacingAndGlyphs">Renal</text>
<text x="286.8" y="221.1" font-size="15.2" fill="#353538" font-weight="normal" text-anchor="start" stroke="#353538" stroke-width="0.10" textLength="27.6" lengthAdjust="spacingAndGlyphs">vein</text>
<text x="254.3" y="630.7" font-size="15.2" fill="#4a3438" font-weight="normal" text-anchor="start" stroke="#4a3438" stroke-width="0.10" textLength="46.2" lengthAdjust="spacingAndGlyphs">Biofilm</text>
<path d="M 274.7 680.2 L 289.2 702.5 L 303.8 703.5" fill="none" stroke="#444" stroke-width="0.9"/>
<text x="306.0" y="709.6" font-size="15.2" fill="#353538" font-weight="normal" text-anchor="start" stroke="#353538" stroke-width="0.10" textLength="73.0" lengthAdjust="spacingAndGlyphs">Neutrophil</text>
<text x="243.4" y="799.3" font-size="15.2" fill="#353538" font-weight="normal" text-anchor="start" stroke="#353538" stroke-width="0.10" textLength="51.5" lengthAdjust="spacingAndGlyphs">Urethra</text>
<text x="237.8" y="842.3" font-size="15.2" fill="#353538" font-weight="normal" text-anchor="start" stroke="#353538" stroke-width="0.10" textLength="101.9" lengthAdjust="spacingAndGlyphs">Uropathogenic</text>
<text x="237.8" y="859.2" font-size="15.2" fill="#353538" font-weight="normal" text-anchor="start" stroke="#353538" stroke-width="0.10" textLength="55.8" lengthAdjust="spacingAndGlyphs">bacteria</text>
<path d="M 777 689 L 777 728" fill="none" stroke="#666" stroke-width="0.9"/>
<text x="779.3" y="733.3" font-size="15.2" fill="#353538" font-weight="normal" text-anchor="start" stroke="#353538" stroke-width="0.10" textLength="72.9" lengthAdjust="spacingAndGlyphs">Fibrinogen</text>
<path d="M 741.1 847 L 757.2 847" fill="none" stroke="#666" stroke-width="0.9"/>
<text x="759.7" y="852.1" font-size="15.2" fill="#353538" font-weight="normal" text-anchor="start" stroke="#353538" stroke-width="0.10" textLength="49.5" lengthAdjust="spacingAndGlyphs">Urinary</text>
<text x="759.7" y="869.3" font-size="15.2" fill="#353538" font-weight="normal" text-anchor="start" stroke="#353538" stroke-width="0.10" textLength="57.3" lengthAdjust="spacingAndGlyphs">catheter</text>
<text x="1.8" y="13.1" font-size="18.0" fill="#111" font-weight="bold" text-anchor="start" stroke="#111" stroke-width="0.20">a</text>
<text x="608.0" y="564.7" font-size="17.0" fill="#111" font-weight="bold" text-anchor="start" stroke="#111" stroke-width="0.20">b</text>
<text x="634.6" y="1017.6" font-size="15.0" fill="#2a2a2a" font-weight="bold" text-anchor="start" textLength="111.2" lengthAdjust="spacingAndGlyphs">Nature Reviews</text>
<rect x="750.2" y="1006.5" width="1.2" height="13.5" fill="#555"/>
<text x="757.4" y="1017.6" font-size="15.0" fill="#9b1e5a" font-weight="bold" text-anchor="start" textLength="94.1" lengthAdjust="spacingAndGlyphs">Microbiology</text></svg>
</body></html>
